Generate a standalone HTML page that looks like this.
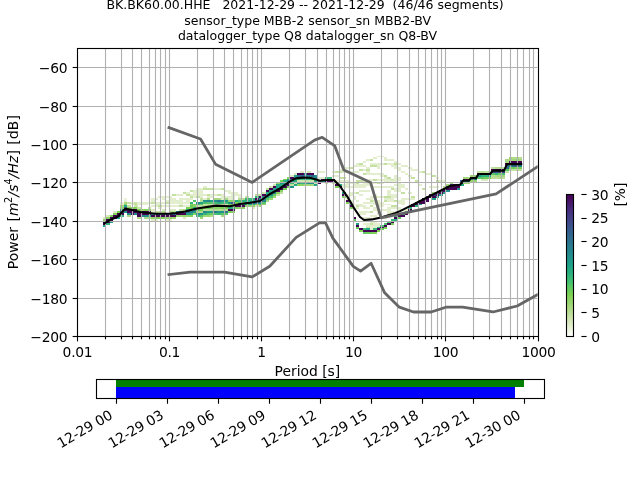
<!DOCTYPE html>
<html><head><meta charset="utf-8"><title>PPSD BK.BK60.00.HHE</title>
<style>
html,body{margin:0;padding:0;background:#fff;}
svg{display:block;font-family:"DejaVu Sans","Liberation Sans",sans-serif;font-size:13.89px;fill:#000;}
.t{font-size:12.5px;}
</style></head><body>
<svg width="640" height="480" viewBox="0 0 640 480">
<defs><linearGradient id="cbg" x1="0" y1="1" x2="0" y2="0"><stop offset="0.0000" stop-color="#ffffff"/><stop offset="0.0167" stop-color="#f9fbf4"/><stop offset="0.0333" stop-color="#f2f7e8"/><stop offset="0.0500" stop-color="#ecf3dd"/><stop offset="0.0667" stop-color="#e5efd2"/><stop offset="0.0833" stop-color="#deecc8"/><stop offset="0.1000" stop-color="#d7e8bd"/><stop offset="0.1167" stop-color="#d0e5b3"/><stop offset="0.1333" stop-color="#c9e2a9"/><stop offset="0.1500" stop-color="#c1e0a0"/><stop offset="0.1667" stop-color="#badd96"/><stop offset="0.1833" stop-color="#b2db8d"/><stop offset="0.2000" stop-color="#abd984"/><stop offset="0.2167" stop-color="#a3d77b"/><stop offset="0.2333" stop-color="#9bd672"/><stop offset="0.2500" stop-color="#93d469"/><stop offset="0.2667" stop-color="#8bd361"/><stop offset="0.2833" stop-color="#82d259"/><stop offset="0.3000" stop-color="#7ad151"/><stop offset="0.3167" stop-color="#6ece58"/><stop offset="0.3333" stop-color="#65cb5e"/><stop offset="0.3500" stop-color="#5ac864"/><stop offset="0.3667" stop-color="#50c46a"/><stop offset="0.3833" stop-color="#46c06f"/><stop offset="0.4000" stop-color="#3dbc74"/><stop offset="0.4167" stop-color="#35b779"/><stop offset="0.4333" stop-color="#2eb37c"/><stop offset="0.4500" stop-color="#28ae80"/><stop offset="0.4667" stop-color="#25ab82"/><stop offset="0.4833" stop-color="#21a685"/><stop offset="0.5000" stop-color="#1fa187"/><stop offset="0.5167" stop-color="#1e9d89"/><stop offset="0.5333" stop-color="#1f988b"/><stop offset="0.5500" stop-color="#20938c"/><stop offset="0.5667" stop-color="#218f8d"/><stop offset="0.5833" stop-color="#238a8d"/><stop offset="0.6000" stop-color="#24868e"/><stop offset="0.6167" stop-color="#26828e"/><stop offset="0.6333" stop-color="#287d8e"/><stop offset="0.6500" stop-color="#2a788e"/><stop offset="0.6667" stop-color="#2c738e"/><stop offset="0.6833" stop-color="#2e6f8e"/><stop offset="0.7000" stop-color="#306a8e"/><stop offset="0.7167" stop-color="#32658e"/><stop offset="0.7333" stop-color="#34618d"/><stop offset="0.7500" stop-color="#365c8d"/><stop offset="0.7667" stop-color="#39568c"/><stop offset="0.7833" stop-color="#3b518b"/><stop offset="0.8000" stop-color="#3e4c8a"/><stop offset="0.8167" stop-color="#404688"/><stop offset="0.8333" stop-color="#424086"/><stop offset="0.8500" stop-color="#443a83"/><stop offset="0.8667" stop-color="#453581"/><stop offset="0.8833" stop-color="#472f7d"/><stop offset="0.9000" stop-color="#482979"/><stop offset="0.9167" stop-color="#482374"/><stop offset="0.9333" stop-color="#481c6e"/><stop offset="0.9500" stop-color="#481668"/><stop offset="0.9667" stop-color="#470e61"/><stop offset="0.9833" stop-color="#46075a"/><stop offset="1.0000" stop-color="#440154"/></linearGradient>
<clipPath id="axc"><rect x="76.8" y="48.0" width="460.8" height="288.0"/></clipPath></defs>
<rect width="640" height="480" fill="#fff"/>
<g shape-rendering="crispEdges" clip-path="url(#axc)">
<rect x="102.81" y="216.96" width="3.52" height="1.97" fill="#dbeac4"/><rect x="102.81" y="218.88" width="3.52" height="1.97" fill="#8dd464"/><rect x="102.81" y="220.80" width="3.52" height="1.97" fill="#440154"/><rect x="102.81" y="222.72" width="3.52" height="1.97" fill="#440154"/><rect x="102.81" y="224.64" width="3.52" height="1.97" fill="#24aa83"/><rect x="106.28" y="215.04" width="3.52" height="1.97" fill="#d8e9bf"/><rect x="106.28" y="216.96" width="3.52" height="1.97" fill="#8cd363"/><rect x="106.28" y="218.88" width="3.52" height="1.97" fill="#440154"/><rect x="106.28" y="220.80" width="3.52" height="1.97" fill="#440154"/><rect x="106.28" y="222.72" width="3.52" height="1.97" fill="#31b57b"/><rect x="109.74" y="215.04" width="3.52" height="1.97" fill="#75d054"/><rect x="109.74" y="216.96" width="3.52" height="1.97" fill="#440154"/><rect x="109.74" y="218.88" width="3.52" height="1.97" fill="#440154"/><rect x="109.74" y="220.80" width="3.52" height="1.97" fill="#1e9d89"/><rect x="113.21" y="211.20" width="3.52" height="1.97" fill="#dceac4"/><rect x="113.21" y="213.12" width="3.52" height="1.97" fill="#83d259"/><rect x="113.21" y="215.04" width="3.52" height="1.97" fill="#440154"/><rect x="113.21" y="216.96" width="3.52" height="1.97" fill="#440154"/><rect x="116.68" y="211.20" width="3.52" height="1.97" fill="#77d153"/><rect x="116.68" y="213.12" width="3.52" height="1.97" fill="#440154"/><rect x="116.68" y="215.04" width="3.52" height="1.97" fill="#440154"/><rect x="116.68" y="216.96" width="3.52" height="1.97" fill="#20a386"/><rect x="120.15" y="201.60" width="3.52" height="1.97" fill="#edf3df"/><rect x="120.15" y="203.52" width="3.52" height="1.97" fill="#e5efd3"/><rect x="120.15" y="205.44" width="3.52" height="1.97" fill="#a2d77a"/><rect x="120.15" y="207.36" width="3.52" height="1.97" fill="#95d56b"/><rect x="120.15" y="209.28" width="3.52" height="1.97" fill="#1fa188"/><rect x="120.15" y="211.20" width="3.52" height="1.97" fill="#3b518b"/><rect x="120.15" y="213.12" width="3.52" height="1.97" fill="#440154"/><rect x="120.15" y="215.04" width="3.52" height="1.97" fill="#2cb17e"/><rect x="123.62" y="197.76" width="3.52" height="1.97" fill="#eaf2db"/><rect x="123.62" y="199.68" width="3.52" height="1.97" fill="#e5efd3"/><rect x="123.62" y="201.60" width="3.52" height="1.97" fill="#a6d87e"/><rect x="123.62" y="203.52" width="3.52" height="1.97" fill="#88d35e"/><rect x="123.62" y="205.44" width="3.52" height="1.97" fill="#23a983"/><rect x="123.62" y="207.36" width="3.52" height="1.97" fill="#375a8c"/><rect x="123.62" y="209.28" width="3.52" height="1.97" fill="#440154"/><rect x="123.62" y="211.20" width="3.52" height="1.97" fill="#20938c"/><rect x="127.08" y="201.60" width="3.52" height="1.97" fill="#c4e1a2"/><rect x="127.08" y="205.44" width="3.52" height="1.97" fill="#c4e1a2"/><rect x="127.08" y="207.36" width="3.52" height="1.97" fill="#84d25b"/><rect x="127.08" y="209.28" width="3.52" height="1.97" fill="#440154"/><rect x="127.08" y="211.20" width="3.52" height="1.97" fill="#440154"/><rect x="127.08" y="213.12" width="3.52" height="1.97" fill="#238a8d"/><rect x="127.08" y="215.04" width="3.52" height="1.97" fill="#aeda87"/><rect x="130.55" y="201.60" width="3.52" height="1.97" fill="#e3eecf"/><rect x="130.55" y="203.52" width="3.52" height="1.97" fill="#e3eecf"/><rect x="130.55" y="207.36" width="3.52" height="1.97" fill="#8cd363"/><rect x="130.55" y="209.28" width="3.52" height="1.97" fill="#440154"/><rect x="130.55" y="211.20" width="3.52" height="1.97" fill="#440154"/><rect x="130.55" y="213.12" width="3.52" height="1.97" fill="#440154"/><rect x="134.02" y="201.60" width="3.52" height="1.97" fill="#c4e1a2"/><rect x="134.02" y="203.52" width="3.52" height="1.97" fill="#c4e1a2"/><rect x="134.02" y="205.44" width="3.52" height="1.97" fill="#cde4af"/><rect x="134.02" y="207.36" width="3.52" height="1.97" fill="#7cd253"/><rect x="134.02" y="209.28" width="3.52" height="1.97" fill="#440154"/><rect x="134.02" y="211.20" width="3.52" height="1.97" fill="#440154"/><rect x="134.02" y="213.12" width="3.52" height="1.97" fill="#238a8d"/><rect x="137.49" y="201.60" width="3.52" height="1.97" fill="#e3eecf"/><rect x="137.49" y="203.52" width="3.52" height="1.97" fill="#e3eecf"/><rect x="137.49" y="207.36" width="3.52" height="1.97" fill="#cae3ab"/><rect x="137.49" y="209.28" width="3.52" height="1.97" fill="#7bd252"/><rect x="137.49" y="211.20" width="3.52" height="1.97" fill="#440154"/><rect x="137.49" y="213.12" width="3.52" height="1.97" fill="#440154"/><rect x="137.49" y="215.04" width="3.52" height="1.97" fill="#440154"/><rect x="137.49" y="216.96" width="3.52" height="1.97" fill="#b2db8c"/><rect x="140.96" y="201.60" width="3.52" height="1.97" fill="#e3eecf"/><rect x="140.96" y="203.52" width="3.52" height="1.97" fill="#e3eecf"/><rect x="140.96" y="209.28" width="3.52" height="1.97" fill="#94d56b"/><rect x="140.96" y="211.20" width="3.52" height="1.97" fill="#440154"/><rect x="140.96" y="213.12" width="3.52" height="1.97" fill="#440154"/><rect x="140.96" y="215.04" width="3.52" height="1.97" fill="#25848e"/><rect x="144.42" y="201.60" width="3.52" height="1.97" fill="#e3eecf"/><rect x="144.42" y="203.52" width="3.52" height="1.97" fill="#e3eecf"/><rect x="144.42" y="209.28" width="3.52" height="1.97" fill="#84d25a"/><rect x="144.42" y="211.20" width="3.52" height="1.97" fill="#440154"/><rect x="144.42" y="213.12" width="3.52" height="1.97" fill="#440154"/><rect x="144.42" y="215.04" width="3.52" height="1.97" fill="#228b8d"/><rect x="144.42" y="216.96" width="3.52" height="1.97" fill="#adda87"/><rect x="147.89" y="201.60" width="3.52" height="1.97" fill="#e3eecf"/><rect x="147.89" y="207.36" width="3.52" height="1.97" fill="#c6e2a6"/><rect x="147.89" y="209.28" width="3.52" height="1.97" fill="#9bd673"/><rect x="147.89" y="211.20" width="3.52" height="1.97" fill="#440154"/><rect x="147.89" y="213.12" width="3.52" height="1.97" fill="#440154"/><rect x="147.89" y="215.04" width="3.52" height="1.97" fill="#27ad81"/><rect x="147.89" y="216.96" width="3.52" height="1.97" fill="#b6dc91"/><rect x="151.36" y="197.76" width="3.52" height="1.97" fill="#e3eecf"/><rect x="151.36" y="199.68" width="3.52" height="1.97" fill="#e3eecf"/><rect x="151.36" y="201.60" width="3.52" height="1.97" fill="#c4e1a2"/><rect x="151.36" y="205.44" width="3.52" height="1.97" fill="#e3eecf"/><rect x="151.36" y="209.28" width="3.52" height="1.97" fill="#ddebc6"/><rect x="151.36" y="211.20" width="3.52" height="1.97" fill="#e3eecf"/><rect x="151.36" y="213.12" width="3.52" height="1.97" fill="#24878e"/><rect x="151.36" y="215.04" width="3.52" height="1.97" fill="#440154"/><rect x="151.36" y="216.96" width="3.52" height="1.97" fill="#90d466"/><rect x="151.36" y="218.88" width="3.52" height="1.97" fill="#daeac2"/><rect x="154.83" y="197.76" width="3.52" height="1.97" fill="#e3eecf"/><rect x="154.83" y="201.60" width="3.52" height="1.97" fill="#e3eecf"/><rect x="154.83" y="203.52" width="3.52" height="1.97" fill="#e3eecf"/><rect x="154.83" y="205.44" width="3.52" height="1.97" fill="#e3eecf"/><rect x="154.83" y="211.20" width="3.52" height="1.97" fill="#bade96"/><rect x="154.83" y="213.12" width="3.52" height="1.97" fill="#23898e"/><rect x="154.83" y="215.04" width="3.52" height="1.97" fill="#440154"/><rect x="154.83" y="216.96" width="3.52" height="1.97" fill="#7dd254"/><rect x="154.83" y="218.88" width="3.52" height="1.97" fill="#e3eecf"/><rect x="158.29" y="195.84" width="3.52" height="1.97" fill="#e3eecf"/><rect x="158.29" y="201.60" width="3.52" height="1.97" fill="#e3eecf"/><rect x="158.29" y="203.52" width="3.52" height="1.97" fill="#e3eecf"/><rect x="158.29" y="205.44" width="3.52" height="1.97" fill="#c4e1a2"/><rect x="158.29" y="207.36" width="3.52" height="1.97" fill="#e3eecf"/><rect x="158.29" y="211.20" width="3.52" height="1.97" fill="#c2e0a0"/><rect x="158.29" y="213.12" width="3.52" height="1.97" fill="#218e8d"/><rect x="158.29" y="215.04" width="3.52" height="1.97" fill="#440154"/><rect x="158.29" y="216.96" width="3.52" height="1.97" fill="#7cd253"/><rect x="161.76" y="195.84" width="3.52" height="1.97" fill="#e3eecf"/><rect x="161.76" y="197.76" width="3.52" height="1.97" fill="#e3eecf"/><rect x="161.76" y="201.60" width="3.52" height="1.97" fill="#e3eecf"/><rect x="161.76" y="205.44" width="3.52" height="1.97" fill="#e3eecf"/><rect x="161.76" y="209.28" width="3.52" height="1.97" fill="#d9e9c0"/><rect x="161.76" y="211.20" width="3.52" height="1.97" fill="#b4dc8e"/><rect x="161.76" y="213.12" width="3.52" height="1.97" fill="#32648e"/><rect x="161.76" y="215.04" width="3.52" height="1.97" fill="#440154"/><rect x="161.76" y="216.96" width="3.52" height="1.97" fill="#7ed255"/><rect x="165.23" y="195.84" width="3.52" height="1.97" fill="#e3eecf"/><rect x="165.23" y="199.68" width="3.52" height="1.97" fill="#e3eecf"/><rect x="165.23" y="201.60" width="3.52" height="1.97" fill="#c4e1a2"/><rect x="165.23" y="205.44" width="3.52" height="1.97" fill="#e3eecf"/><rect x="165.23" y="213.12" width="3.52" height="1.97" fill="#31668e"/><rect x="165.23" y="215.04" width="3.52" height="1.97" fill="#440154"/><rect x="165.23" y="216.96" width="3.52" height="1.97" fill="#90d467"/><rect x="165.23" y="218.88" width="3.52" height="1.97" fill="#e3eecf"/><rect x="168.70" y="195.84" width="3.52" height="1.97" fill="#e3eecf"/><rect x="168.70" y="197.76" width="3.52" height="1.97" fill="#e3eecf"/><rect x="168.70" y="199.68" width="3.52" height="1.97" fill="#e3eecf"/><rect x="168.70" y="201.60" width="3.52" height="1.97" fill="#e3eecf"/><rect x="168.70" y="205.44" width="3.52" height="1.97" fill="#e3eecf"/><rect x="168.70" y="209.28" width="3.52" height="1.97" fill="#daeac2"/><rect x="168.70" y="211.20" width="3.52" height="1.97" fill="#b0da89"/><rect x="168.70" y="213.12" width="3.52" height="1.97" fill="#375a8c"/><rect x="168.70" y="215.04" width="3.52" height="1.97" fill="#440154"/><rect x="168.70" y="216.96" width="3.52" height="1.97" fill="#90d466"/><rect x="168.70" y="218.88" width="3.52" height="1.97" fill="#e1edcc"/><rect x="172.17" y="193.92" width="3.52" height="1.97" fill="#c4e1a2"/><rect x="172.17" y="197.76" width="3.52" height="1.97" fill="#e3eecf"/><rect x="172.17" y="199.68" width="3.52" height="1.97" fill="#e3eecf"/><rect x="172.17" y="201.60" width="3.52" height="1.97" fill="#e3eecf"/><rect x="172.17" y="205.44" width="3.52" height="1.97" fill="#e3eecf"/><rect x="172.17" y="209.28" width="3.52" height="1.97" fill="#dbeac3"/><rect x="172.17" y="211.20" width="3.52" height="1.97" fill="#b1db8b"/><rect x="172.17" y="213.12" width="3.52" height="1.97" fill="#2b748e"/><rect x="172.17" y="215.04" width="3.52" height="1.97" fill="#440154"/><rect x="172.17" y="216.96" width="3.52" height="1.97" fill="#9bd672"/><rect x="175.63" y="193.92" width="3.52" height="1.97" fill="#e3eecf"/><rect x="175.63" y="199.68" width="3.52" height="1.97" fill="#e3eecf"/><rect x="175.63" y="201.60" width="3.52" height="1.97" fill="#e3eecf"/><rect x="175.63" y="205.44" width="3.52" height="1.97" fill="#e3eecf"/><rect x="175.63" y="211.20" width="3.52" height="1.97" fill="#2b748e"/><rect x="175.63" y="213.12" width="3.52" height="1.97" fill="#440154"/><rect x="175.63" y="215.04" width="3.52" height="1.97" fill="#91d468"/><rect x="179.10" y="193.92" width="3.52" height="1.97" fill="#e3eecf"/><rect x="179.10" y="197.76" width="3.52" height="1.97" fill="#e3eecf"/><rect x="179.10" y="199.68" width="3.52" height="1.97" fill="#e3eecf"/><rect x="179.10" y="201.60" width="3.52" height="1.97" fill="#e3eecf"/><rect x="179.10" y="203.52" width="3.52" height="1.97" fill="#e3eecf"/><rect x="179.10" y="205.44" width="3.52" height="1.97" fill="#c4e1a2"/><rect x="179.10" y="209.28" width="3.52" height="1.97" fill="#bcde99"/><rect x="179.10" y="211.20" width="3.52" height="1.97" fill="#31678e"/><rect x="179.10" y="213.12" width="3.52" height="1.97" fill="#440154"/><rect x="179.10" y="215.04" width="3.52" height="1.97" fill="#98d56f"/><rect x="182.57" y="192.00" width="3.52" height="1.97" fill="#c4e1a2"/><rect x="182.57" y="197.76" width="3.52" height="1.97" fill="#e3eecf"/><rect x="182.57" y="201.60" width="3.52" height="1.97" fill="#e3eecf"/><rect x="182.57" y="205.44" width="3.52" height="1.97" fill="#e3eecf"/><rect x="182.57" y="209.28" width="3.52" height="1.97" fill="#b3db8d"/><rect x="182.57" y="211.20" width="3.52" height="1.97" fill="#2f6b8e"/><rect x="182.57" y="213.12" width="3.52" height="1.97" fill="#440154"/><rect x="182.57" y="215.04" width="3.52" height="1.97" fill="#99d570"/><rect x="182.57" y="216.96" width="3.52" height="1.97" fill="#d9e9c0"/><rect x="186.04" y="192.00" width="3.52" height="1.97" fill="#e3eecf"/><rect x="186.04" y="193.92" width="3.52" height="1.97" fill="#c4e1a2"/><rect x="186.04" y="197.76" width="3.52" height="1.97" fill="#e3eecf"/><rect x="186.04" y="199.68" width="3.52" height="1.97" fill="#e3eecf"/><rect x="186.04" y="201.60" width="3.52" height="1.97" fill="#e3eecf"/><rect x="186.04" y="205.44" width="3.52" height="1.97" fill="#e3eecf"/><rect x="186.04" y="207.36" width="3.52" height="1.97" fill="#7cd253"/><rect x="186.04" y="209.28" width="3.52" height="1.97" fill="#26ad81"/><rect x="186.04" y="211.20" width="3.52" height="1.97" fill="#2e6e8e"/><rect x="186.04" y="213.12" width="3.52" height="1.97" fill="#1f9e89"/><rect x="186.04" y="215.04" width="3.52" height="1.97" fill="#8ed464"/><rect x="189.51" y="190.08" width="3.52" height="1.97" fill="#c4e1a2"/><rect x="189.51" y="193.92" width="3.52" height="1.97" fill="#e3eecf"/><rect x="189.51" y="195.84" width="3.52" height="1.97" fill="#c4e1a2"/><rect x="189.51" y="197.76" width="3.52" height="1.97" fill="#e3eecf"/><rect x="189.51" y="201.60" width="3.52" height="1.97" fill="#38b977"/><rect x="189.51" y="203.52" width="3.52" height="1.97" fill="#8cd363"/><rect x="189.51" y="205.44" width="3.52" height="1.97" fill="#63cb5f"/><rect x="189.51" y="207.36" width="3.52" height="1.97" fill="#7ad151"/><rect x="189.51" y="209.28" width="3.52" height="1.97" fill="#1fa088"/><rect x="189.51" y="211.20" width="3.52" height="1.97" fill="#277e8e"/><rect x="189.51" y="213.12" width="3.52" height="1.97" fill="#28ae80"/><rect x="189.51" y="215.04" width="3.52" height="1.97" fill="#7fd256"/><rect x="192.97" y="190.08" width="3.52" height="1.97" fill="#e3eecf"/><rect x="192.97" y="192.00" width="3.52" height="1.97" fill="#e3eecf"/><rect x="192.97" y="193.92" width="3.52" height="1.97" fill="#e3eecf"/><rect x="192.97" y="195.84" width="3.52" height="1.97" fill="#e3eecf"/><rect x="192.97" y="199.68" width="3.52" height="1.97" fill="#52c569"/><rect x="192.97" y="203.52" width="3.52" height="1.97" fill="#82d259"/><rect x="192.97" y="205.44" width="3.52" height="1.97" fill="#88d35f"/><rect x="192.97" y="207.36" width="3.52" height="1.97" fill="#2cb17e"/><rect x="192.97" y="209.28" width="3.52" height="1.97" fill="#2d718e"/><rect x="192.97" y="211.20" width="3.52" height="1.97" fill="#1f968b"/><rect x="192.97" y="213.12" width="3.52" height="1.97" fill="#88d35f"/><rect x="196.44" y="188.16" width="3.52" height="1.97" fill="#e3eecf"/><rect x="196.44" y="190.08" width="3.52" height="1.97" fill="#e3eecf"/><rect x="196.44" y="192.00" width="3.52" height="1.97" fill="#e3eecf"/><rect x="196.44" y="193.92" width="3.52" height="1.97" fill="#e3eecf"/><rect x="196.44" y="195.84" width="3.52" height="1.97" fill="#c4e1a2"/><rect x="196.44" y="201.60" width="3.52" height="1.97" fill="#20928c"/><rect x="196.44" y="203.52" width="3.52" height="1.97" fill="#3dbc74"/><rect x="196.44" y="205.44" width="3.52" height="1.97" fill="#c5e1a5"/><rect x="196.44" y="207.36" width="3.52" height="1.97" fill="#9ad671"/><rect x="196.44" y="209.28" width="3.52" height="1.97" fill="#60ca60"/><rect x="196.44" y="211.20" width="3.52" height="1.97" fill="#b1db8b"/><rect x="196.44" y="213.12" width="3.52" height="1.97" fill="#20928c"/><rect x="196.44" y="215.04" width="3.52" height="1.97" fill="#37b878"/><rect x="199.91" y="188.16" width="3.52" height="1.97" fill="#e3eecf"/><rect x="199.91" y="190.08" width="3.52" height="1.97" fill="#e3eecf"/><rect x="199.91" y="192.00" width="3.52" height="1.97" fill="#e3eecf"/><rect x="199.91" y="193.92" width="3.52" height="1.97" fill="#e3eecf"/><rect x="199.91" y="195.84" width="3.52" height="1.97" fill="#e3eecf"/><rect x="199.91" y="197.76" width="3.52" height="1.97" fill="#c4e1a2"/><rect x="199.91" y="199.68" width="3.52" height="1.97" fill="#b5dc90"/><rect x="199.91" y="201.60" width="3.52" height="1.97" fill="#20a386"/><rect x="199.91" y="203.52" width="3.52" height="1.97" fill="#5ac864"/><rect x="199.91" y="205.44" width="3.52" height="1.97" fill="#c4e1a3"/><rect x="199.91" y="207.36" width="3.52" height="1.97" fill="#a6d87f"/><rect x="199.91" y="209.28" width="3.52" height="1.97" fill="#70cf57"/><rect x="199.91" y="211.20" width="3.52" height="1.97" fill="#b1db8b"/><rect x="199.91" y="213.12" width="3.52" height="1.97" fill="#20938c"/><rect x="199.91" y="215.04" width="3.52" height="1.97" fill="#56c667"/><rect x="199.91" y="216.96" width="3.52" height="1.97" fill="#9dd674"/><rect x="203.38" y="186.24" width="3.52" height="1.97" fill="#e3eecf"/><rect x="203.38" y="188.16" width="3.52" height="1.97" fill="#c4e1a2"/><rect x="203.38" y="193.92" width="3.52" height="1.97" fill="#e3eecf"/><rect x="203.38" y="197.76" width="3.52" height="1.97" fill="#e3eecf"/><rect x="203.38" y="199.68" width="3.52" height="1.97" fill="#20928c"/><rect x="203.38" y="201.60" width="3.52" height="1.97" fill="#48c16e"/><rect x="203.38" y="203.52" width="3.52" height="1.97" fill="#cce4ae"/><rect x="203.38" y="205.44" width="3.52" height="1.97" fill="#abd984"/><rect x="203.38" y="207.36" width="3.52" height="1.97" fill="#7cd254"/><rect x="203.38" y="209.28" width="3.52" height="1.97" fill="#bedf9b"/><rect x="203.38" y="211.20" width="3.52" height="1.97" fill="#25858e"/><rect x="203.38" y="213.12" width="3.52" height="1.97" fill="#34b679"/><rect x="203.38" y="215.04" width="3.52" height="1.97" fill="#9dd674"/><rect x="206.84" y="188.16" width="3.52" height="1.97" fill="#c4e1a2"/><rect x="206.84" y="193.92" width="3.52" height="1.97" fill="#c4e1a2"/><rect x="206.84" y="195.84" width="3.52" height="1.97" fill="#e3eecf"/><rect x="206.84" y="197.76" width="3.52" height="1.97" fill="#b1db8b"/><rect x="206.84" y="199.68" width="3.52" height="1.97" fill="#26828e"/><rect x="206.84" y="201.60" width="3.52" height="1.97" fill="#56c667"/><rect x="206.84" y="203.52" width="3.52" height="1.97" fill="#c2e0a0"/><rect x="206.84" y="205.44" width="3.52" height="1.97" fill="#a3d77b"/><rect x="206.84" y="207.36" width="3.52" height="1.97" fill="#60ca60"/><rect x="206.84" y="209.28" width="3.52" height="1.97" fill="#b5dc90"/><rect x="206.84" y="211.20" width="3.52" height="1.97" fill="#1e9c89"/><rect x="206.84" y="213.12" width="3.52" height="1.97" fill="#54c568"/><rect x="206.84" y="215.04" width="3.52" height="1.97" fill="#9ed676"/><rect x="210.31" y="188.16" width="3.52" height="1.97" fill="#c4e1a2"/><rect x="210.31" y="193.92" width="3.52" height="1.97" fill="#e3eecf"/><rect x="210.31" y="195.84" width="3.52" height="1.97" fill="#e3eecf"/><rect x="210.31" y="199.68" width="3.52" height="1.97" fill="#1fa287"/><rect x="210.31" y="201.60" width="3.52" height="1.97" fill="#5ac864"/><rect x="210.31" y="203.52" width="3.52" height="1.97" fill="#cae3aa"/><rect x="210.31" y="205.44" width="3.52" height="1.97" fill="#99d570"/><rect x="210.31" y="207.36" width="3.52" height="1.97" fill="#84d25b"/><rect x="210.31" y="209.28" width="3.52" height="1.97" fill="#b9dd95"/><rect x="210.31" y="211.20" width="3.52" height="1.97" fill="#1f998a"/><rect x="210.31" y="213.12" width="3.52" height="1.97" fill="#6ece58"/><rect x="210.31" y="215.04" width="3.52" height="1.97" fill="#b0db8a"/><rect x="213.78" y="188.16" width="3.52" height="1.97" fill="#e3eecf"/><rect x="213.78" y="193.92" width="3.52" height="1.97" fill="#e3eecf"/><rect x="213.78" y="197.76" width="3.52" height="1.97" fill="#a3d87b"/><rect x="213.78" y="199.68" width="3.52" height="1.97" fill="#218f8d"/><rect x="213.78" y="201.60" width="3.52" height="1.97" fill="#46c06f"/><rect x="213.78" y="203.52" width="3.52" height="1.97" fill="#cde4af"/><rect x="213.78" y="205.44" width="3.52" height="1.97" fill="#93d46a"/><rect x="213.78" y="207.36" width="3.52" height="1.97" fill="#88d35e"/><rect x="213.78" y="209.28" width="3.52" height="1.97" fill="#b0db8a"/><rect x="213.78" y="211.20" width="3.52" height="1.97" fill="#2a768e"/><rect x="213.78" y="213.12" width="3.52" height="1.97" fill="#50c46a"/><rect x="217.25" y="188.16" width="3.52" height="1.97" fill="#e3eecf"/><rect x="217.25" y="193.92" width="3.52" height="1.97" fill="#c4e1a2"/><rect x="217.25" y="197.76" width="3.52" height="1.97" fill="#aad983"/><rect x="217.25" y="199.68" width="3.52" height="1.97" fill="#2a788e"/><rect x="217.25" y="201.60" width="3.52" height="1.97" fill="#2cb17e"/><rect x="217.25" y="203.52" width="3.52" height="1.97" fill="#c6e2a6"/><rect x="217.25" y="205.44" width="3.52" height="1.97" fill="#a0d777"/><rect x="217.25" y="207.36" width="3.52" height="1.97" fill="#8bd361"/><rect x="217.25" y="209.28" width="3.52" height="1.97" fill="#b5dc8f"/><rect x="217.25" y="211.20" width="3.52" height="1.97" fill="#1f968b"/><rect x="217.25" y="213.12" width="3.52" height="1.97" fill="#3bbb75"/><rect x="220.72" y="188.16" width="3.52" height="1.97" fill="#c4e1a2"/><rect x="220.72" y="193.92" width="3.52" height="1.97" fill="#e3eecf"/><rect x="220.72" y="195.84" width="3.52" height="1.97" fill="#e3eecf"/><rect x="220.72" y="197.76" width="3.52" height="1.97" fill="#e3eecf"/><rect x="220.72" y="199.68" width="3.52" height="1.97" fill="#1e9b8a"/><rect x="220.72" y="201.60" width="3.52" height="1.97" fill="#3fbc73"/><rect x="220.72" y="203.52" width="3.52" height="1.97" fill="#cae3ab"/><rect x="220.72" y="205.44" width="3.52" height="1.97" fill="#8bd362"/><rect x="220.72" y="207.36" width="3.52" height="1.97" fill="#77d153"/><rect x="220.72" y="209.28" width="3.52" height="1.97" fill="#afda89"/><rect x="220.72" y="211.20" width="3.52" height="1.97" fill="#228d8d"/><rect x="220.72" y="213.12" width="3.52" height="1.97" fill="#58c765"/><rect x="220.72" y="215.04" width="3.52" height="1.97" fill="#abd983"/><rect x="224.18" y="190.08" width="3.52" height="1.97" fill="#e3eecf"/><rect x="224.18" y="195.84" width="3.52" height="1.97" fill="#e3eecf"/><rect x="224.18" y="197.76" width="3.52" height="1.97" fill="#abd983"/><rect x="224.18" y="199.68" width="3.52" height="1.97" fill="#1f9a8a"/><rect x="224.18" y="201.60" width="3.52" height="1.97" fill="#44bf70"/><rect x="224.18" y="203.52" width="3.52" height="1.97" fill="#d1e6b5"/><rect x="224.18" y="205.44" width="3.52" height="1.97" fill="#a4d87c"/><rect x="224.18" y="207.36" width="3.52" height="1.97" fill="#7ad151"/><rect x="224.18" y="209.28" width="3.52" height="1.97" fill="#b6dc92"/><rect x="224.18" y="211.20" width="3.52" height="1.97" fill="#2c738e"/><rect x="224.18" y="213.12" width="3.52" height="1.97" fill="#5ac864"/><rect x="227.65" y="190.08" width="3.52" height="1.97" fill="#e3eecf"/><rect x="227.65" y="192.00" width="3.52" height="1.97" fill="#e3eecf"/><rect x="227.65" y="195.84" width="3.52" height="1.97" fill="#e3eecf"/><rect x="227.65" y="197.76" width="3.52" height="1.97" fill="#e3eecf"/><rect x="227.65" y="199.68" width="3.52" height="1.97" fill="#93d46a"/><rect x="227.65" y="201.60" width="3.52" height="1.97" fill="#228d8d"/><rect x="227.65" y="203.52" width="3.52" height="1.97" fill="#7bd252"/><rect x="227.65" y="205.44" width="3.52" height="1.97" fill="#56c667"/><rect x="227.65" y="207.36" width="3.52" height="1.97" fill="#35b779"/><rect x="227.65" y="209.28" width="3.52" height="1.97" fill="#440154"/><rect x="227.65" y="211.20" width="3.52" height="1.97" fill="#7dd254"/><rect x="231.12" y="192.00" width="3.52" height="1.97" fill="#e3eecf"/><rect x="231.12" y="193.92" width="3.52" height="1.97" fill="#e3eecf"/><rect x="231.12" y="195.84" width="3.52" height="1.97" fill="#e3eecf"/><rect x="231.12" y="197.76" width="3.52" height="1.97" fill="#e3eecf"/><rect x="231.12" y="199.68" width="3.52" height="1.97" fill="#90d466"/><rect x="231.12" y="201.60" width="3.52" height="1.97" fill="#365d8d"/><rect x="231.12" y="203.52" width="3.52" height="1.97" fill="#83d25a"/><rect x="231.12" y="205.44" width="3.52" height="1.97" fill="#81d258"/><rect x="231.12" y="207.36" width="3.52" height="1.97" fill="#29af7f"/><rect x="231.12" y="209.28" width="3.52" height="1.97" fill="#440154"/><rect x="231.12" y="211.20" width="3.52" height="1.97" fill="#88d35f"/><rect x="234.59" y="192.00" width="3.52" height="1.97" fill="#e3eecf"/><rect x="234.59" y="193.92" width="3.52" height="1.97" fill="#e3eecf"/><rect x="234.59" y="199.68" width="3.52" height="1.97" fill="#26ad81"/><rect x="234.59" y="201.60" width="3.52" height="1.97" fill="#82d259"/><rect x="234.59" y="203.52" width="3.52" height="1.97" fill="#29798e"/><rect x="234.59" y="205.44" width="3.52" height="1.97" fill="#440154"/><rect x="234.59" y="207.36" width="3.52" height="1.97" fill="#84d25b"/><rect x="238.06" y="193.92" width="3.52" height="1.97" fill="#e3eecf"/><rect x="238.06" y="195.84" width="3.52" height="1.97" fill="#e3eecf"/><rect x="238.06" y="197.76" width="3.52" height="1.97" fill="#b5dc8f"/><rect x="238.06" y="199.68" width="3.52" height="1.97" fill="#48c16e"/><rect x="238.06" y="201.60" width="3.52" height="1.97" fill="#56c667"/><rect x="238.06" y="203.52" width="3.52" height="1.97" fill="#297a8e"/><rect x="238.06" y="205.44" width="3.52" height="1.97" fill="#440154"/><rect x="238.06" y="207.36" width="3.52" height="1.97" fill="#8fd466"/><rect x="241.52" y="197.76" width="3.52" height="1.97" fill="#b6dc91"/><rect x="241.52" y="199.68" width="3.52" height="1.97" fill="#29af7f"/><rect x="241.52" y="201.60" width="3.52" height="1.97" fill="#7ed255"/><rect x="241.52" y="203.52" width="3.52" height="1.97" fill="#20928c"/><rect x="241.52" y="205.44" width="3.52" height="1.97" fill="#440154"/><rect x="241.52" y="207.36" width="3.52" height="1.97" fill="#88d35e"/><rect x="244.99" y="195.84" width="3.52" height="1.97" fill="#c4e1a3"/><rect x="244.99" y="197.76" width="3.52" height="1.97" fill="#34b679"/><rect x="244.99" y="199.68" width="3.52" height="1.97" fill="#2db27d"/><rect x="244.99" y="201.60" width="3.52" height="1.97" fill="#2b758e"/><rect x="244.99" y="203.52" width="3.52" height="1.97" fill="#23a983"/><rect x="244.99" y="205.44" width="3.52" height="1.97" fill="#96d56d"/><rect x="248.46" y="197.76" width="3.52" height="1.97" fill="#3fbc73"/><rect x="248.46" y="199.68" width="3.52" height="1.97" fill="#26ad81"/><rect x="248.46" y="201.60" width="3.52" height="1.97" fill="#25838e"/><rect x="248.46" y="203.52" width="3.52" height="1.97" fill="#21a585"/><rect x="248.46" y="205.44" width="3.52" height="1.97" fill="#99d56f"/><rect x="251.93" y="197.76" width="3.52" height="1.97" fill="#2db27d"/><rect x="251.93" y="199.68" width="3.52" height="1.97" fill="#1fa287"/><rect x="251.93" y="201.60" width="3.52" height="1.97" fill="#365d8d"/><rect x="251.93" y="203.52" width="3.52" height="1.97" fill="#26ad81"/><rect x="251.93" y="205.44" width="3.52" height="1.97" fill="#8bd361"/><rect x="251.93" y="207.36" width="3.52" height="1.97" fill="#daeac1"/><rect x="255.40" y="193.92" width="3.52" height="1.97" fill="#bddf9a"/><rect x="255.40" y="195.84" width="3.52" height="1.97" fill="#2cb17e"/><rect x="255.40" y="197.76" width="3.52" height="1.97" fill="#440154"/><rect x="255.40" y="199.68" width="3.52" height="1.97" fill="#34608d"/><rect x="255.40" y="201.60" width="3.52" height="1.97" fill="#25858e"/><rect x="255.40" y="203.52" width="3.52" height="1.97" fill="#7ad252"/><rect x="255.40" y="205.44" width="3.52" height="1.97" fill="#d9e9c0"/><rect x="258.86" y="193.92" width="3.52" height="1.97" fill="#c0df9e"/><rect x="258.86" y="195.84" width="3.52" height="1.97" fill="#440154"/><rect x="258.86" y="197.76" width="3.52" height="1.97" fill="#1e9b8a"/><rect x="258.86" y="199.68" width="3.52" height="1.97" fill="#1e9c89"/><rect x="258.86" y="201.60" width="3.52" height="1.97" fill="#23898e"/><rect x="258.86" y="203.52" width="3.52" height="1.97" fill="#4ac16d"/><rect x="258.86" y="205.44" width="3.52" height="1.97" fill="#a3d77a"/><rect x="262.33" y="192.00" width="3.52" height="1.97" fill="#cee5b1"/><rect x="262.33" y="193.92" width="3.52" height="1.97" fill="#440154"/><rect x="262.33" y="195.84" width="3.52" height="1.97" fill="#24878e"/><rect x="262.33" y="197.76" width="3.52" height="1.97" fill="#27808e"/><rect x="262.33" y="199.68" width="3.52" height="1.97" fill="#25848e"/><rect x="262.33" y="201.60" width="3.52" height="1.97" fill="#56c667"/><rect x="262.33" y="203.52" width="3.52" height="1.97" fill="#93d46a"/><rect x="265.80" y="188.16" width="3.52" height="1.97" fill="#c4e1a3"/><rect x="265.80" y="190.08" width="3.52" height="1.97" fill="#440154"/><rect x="265.80" y="192.00" width="3.52" height="1.97" fill="#25ac82"/><rect x="265.80" y="193.92" width="3.52" height="1.97" fill="#1f988b"/><rect x="265.80" y="195.84" width="3.52" height="1.97" fill="#1f9f88"/><rect x="265.80" y="197.76" width="3.52" height="1.97" fill="#56c667"/><rect x="265.80" y="199.68" width="3.52" height="1.97" fill="#a3d77b"/><rect x="269.27" y="186.24" width="3.52" height="1.97" fill="#cce4ae"/><rect x="269.27" y="188.16" width="3.52" height="1.97" fill="#440154"/><rect x="269.27" y="190.08" width="3.52" height="1.97" fill="#22a785"/><rect x="269.27" y="192.00" width="3.52" height="1.97" fill="#1f948c"/><rect x="269.27" y="193.92" width="3.52" height="1.97" fill="#1f988b"/><rect x="269.27" y="195.84" width="3.52" height="1.97" fill="#4cc26c"/><rect x="269.27" y="197.76" width="3.52" height="1.97" fill="#9dd674"/><rect x="272.73" y="184.32" width="3.52" height="1.97" fill="#cee5b1"/><rect x="272.73" y="186.24" width="3.52" height="1.97" fill="#440154"/><rect x="272.73" y="188.16" width="3.52" height="1.97" fill="#24aa83"/><rect x="272.73" y="190.08" width="3.52" height="1.97" fill="#20928c"/><rect x="272.73" y="192.00" width="3.52" height="1.97" fill="#24878e"/><rect x="272.73" y="193.92" width="3.52" height="1.97" fill="#69cd5b"/><rect x="272.73" y="195.84" width="3.52" height="1.97" fill="#9ad671"/><rect x="276.20" y="182.40" width="3.52" height="1.97" fill="#91d468"/><rect x="276.20" y="184.32" width="3.52" height="1.97" fill="#25ab82"/><rect x="276.20" y="186.24" width="3.52" height="1.97" fill="#23a983"/><rect x="276.20" y="188.16" width="3.52" height="1.97" fill="#2f6c8e"/><rect x="276.20" y="190.08" width="3.52" height="1.97" fill="#440154"/><rect x="276.20" y="192.00" width="3.52" height="1.97" fill="#84d25b"/><rect x="276.20" y="193.92" width="3.52" height="1.97" fill="#cbe3ac"/><rect x="279.67" y="180.48" width="3.52" height="1.97" fill="#77d153"/><rect x="279.67" y="182.40" width="3.52" height="1.97" fill="#20928c"/><rect x="279.67" y="184.32" width="3.52" height="1.97" fill="#26ad81"/><rect x="279.67" y="186.24" width="3.52" height="1.97" fill="#365d8d"/><rect x="279.67" y="188.16" width="3.52" height="1.97" fill="#440154"/><rect x="279.67" y="190.08" width="3.52" height="1.97" fill="#90d467"/><rect x="279.67" y="192.00" width="3.52" height="1.97" fill="#c1e09f"/><rect x="283.14" y="178.56" width="3.52" height="1.97" fill="#7cd253"/><rect x="283.14" y="180.48" width="3.52" height="1.97" fill="#25ac82"/><rect x="283.14" y="182.40" width="3.52" height="1.97" fill="#22a785"/><rect x="283.14" y="184.32" width="3.52" height="1.97" fill="#30698e"/><rect x="283.14" y="186.24" width="3.52" height="1.97" fill="#440154"/><rect x="283.14" y="188.16" width="3.52" height="1.97" fill="#70cf57"/><rect x="286.61" y="176.64" width="3.52" height="1.97" fill="#89d35f"/><rect x="286.61" y="178.56" width="3.52" height="1.97" fill="#1f958b"/><rect x="286.61" y="180.48" width="3.52" height="1.97" fill="#25858e"/><rect x="286.61" y="182.40" width="3.52" height="1.97" fill="#277f8e"/><rect x="286.61" y="184.32" width="3.52" height="1.97" fill="#440154"/><rect x="286.61" y="186.24" width="3.52" height="1.97" fill="#73d056"/><rect x="290.07" y="174.72" width="3.52" height="1.97" fill="#dcebc5"/><rect x="290.07" y="176.64" width="3.52" height="1.97" fill="#440154"/><rect x="290.07" y="178.56" width="3.52" height="1.97" fill="#297a8e"/><rect x="290.07" y="180.48" width="3.52" height="1.97" fill="#1e9d89"/><rect x="290.07" y="182.40" width="3.52" height="1.97" fill="#3aba76"/><rect x="290.07" y="184.32" width="3.52" height="1.97" fill="#c1e09f"/><rect x="290.07" y="186.24" width="3.52" height="1.97" fill="#20928c"/><rect x="293.54" y="172.80" width="3.52" height="1.97" fill="#daeac2"/><rect x="293.54" y="174.72" width="3.52" height="1.97" fill="#1fa188"/><rect x="293.54" y="176.64" width="3.52" height="1.97" fill="#2c738e"/><rect x="293.54" y="178.56" width="3.52" height="1.97" fill="#20a486"/><rect x="293.54" y="180.48" width="3.52" height="1.97" fill="#27ad81"/><rect x="293.54" y="182.40" width="3.52" height="1.97" fill="#cee4b0"/><rect x="293.54" y="184.32" width="3.52" height="1.97" fill="#22a884"/><rect x="297.01" y="172.80" width="3.52" height="1.97" fill="#440154"/><rect x="297.01" y="174.72" width="3.52" height="1.97" fill="#31668e"/><rect x="297.01" y="176.64" width="3.52" height="1.97" fill="#27ad81"/><rect x="297.01" y="178.56" width="3.52" height="1.97" fill="#38b977"/><rect x="297.01" y="180.48" width="3.52" height="1.97" fill="#cde4b0"/><rect x="297.01" y="182.40" width="3.52" height="1.97" fill="#1f968b"/><rect x="297.01" y="184.32" width="3.52" height="1.97" fill="#8bd362"/><rect x="300.48" y="170.88" width="3.52" height="1.97" fill="#dbeac3"/><rect x="300.48" y="172.80" width="3.52" height="1.97" fill="#440154"/><rect x="300.48" y="174.72" width="3.52" height="1.97" fill="#306a8e"/><rect x="300.48" y="176.64" width="3.52" height="1.97" fill="#29af7f"/><rect x="300.48" y="178.56" width="3.52" height="1.97" fill="#3fbc73"/><rect x="300.48" y="180.48" width="3.52" height="1.97" fill="#cfe5b2"/><rect x="300.48" y="182.40" width="3.52" height="1.97" fill="#2eb37c"/><rect x="300.48" y="184.32" width="3.52" height="1.97" fill="#8dd464"/><rect x="303.95" y="172.80" width="3.52" height="1.97" fill="#25858e"/><rect x="303.95" y="174.72" width="3.52" height="1.97" fill="#25848e"/><rect x="303.95" y="176.64" width="3.52" height="1.97" fill="#1f978b"/><rect x="303.95" y="178.56" width="3.52" height="1.97" fill="#27ad81"/><rect x="303.95" y="180.48" width="3.52" height="1.97" fill="#cbe3ac"/><rect x="303.95" y="182.40" width="3.52" height="1.97" fill="#28ae80"/><rect x="303.95" y="184.32" width="3.52" height="1.97" fill="#a2d77a"/><rect x="307.41" y="170.88" width="3.52" height="1.97" fill="#d1e6b5"/><rect x="307.41" y="172.80" width="3.52" height="1.97" fill="#440154"/><rect x="307.41" y="174.72" width="3.52" height="1.97" fill="#25838e"/><rect x="307.41" y="176.64" width="3.52" height="1.97" fill="#1f948c"/><rect x="307.41" y="178.56" width="3.52" height="1.97" fill="#32b67a"/><rect x="307.41" y="180.48" width="3.52" height="1.97" fill="#c9e3aa"/><rect x="307.41" y="182.40" width="3.52" height="1.97" fill="#21908d"/><rect x="307.41" y="184.32" width="3.52" height="1.97" fill="#9fd777"/><rect x="310.88" y="172.80" width="3.52" height="1.97" fill="#440154"/><rect x="310.88" y="174.72" width="3.52" height="1.97" fill="#33628d"/><rect x="310.88" y="176.64" width="3.52" height="1.97" fill="#2fb47c"/><rect x="310.88" y="178.56" width="3.52" height="1.97" fill="#4ac16d"/><rect x="310.88" y="180.48" width="3.52" height="1.97" fill="#cde4af"/><rect x="310.88" y="182.40" width="3.52" height="1.97" fill="#21918c"/><rect x="310.88" y="184.32" width="3.52" height="1.97" fill="#a2d77a"/><rect x="314.35" y="174.72" width="3.52" height="1.97" fill="#218f8d"/><rect x="314.35" y="176.64" width="3.52" height="1.97" fill="#27808e"/><rect x="314.35" y="178.56" width="3.52" height="1.97" fill="#1f978b"/><rect x="314.35" y="180.48" width="3.52" height="1.97" fill="#28ae80"/><rect x="314.35" y="182.40" width="3.52" height="1.97" fill="#d1e6b5"/><rect x="314.35" y="184.32" width="3.52" height="1.97" fill="#1fa287"/><rect x="317.82" y="170.88" width="3.52" height="1.97" fill="#e3eecf"/><rect x="317.82" y="176.64" width="3.52" height="1.97" fill="#e3eecf"/><rect x="317.82" y="180.48" width="3.52" height="1.97" fill="#3a548c"/><rect x="317.82" y="182.40" width="3.52" height="1.97" fill="#440154"/><rect x="321.28" y="170.88" width="3.52" height="1.97" fill="#e3eecf"/><rect x="321.28" y="176.64" width="3.52" height="1.97" fill="#e3eecf"/><rect x="321.28" y="178.56" width="3.52" height="1.97" fill="#482576"/><rect x="321.28" y="180.48" width="3.52" height="1.97" fill="#1fa088"/><rect x="324.75" y="176.64" width="3.52" height="1.97" fill="#2cb17e"/><rect x="324.75" y="178.56" width="3.52" height="1.97" fill="#482878"/><rect x="324.75" y="180.48" width="3.52" height="1.97" fill="#440154"/><rect x="324.75" y="182.40" width="3.52" height="1.97" fill="#c4e1a3"/><rect x="328.22" y="176.64" width="3.52" height="1.97" fill="#3aba76"/><rect x="328.22" y="178.56" width="3.52" height="1.97" fill="#443b84"/><rect x="328.22" y="180.48" width="3.52" height="1.97" fill="#440154"/><rect x="331.69" y="170.88" width="3.52" height="1.97" fill="#e3eecf"/><rect x="331.69" y="174.72" width="3.52" height="1.97" fill="#e3eecf"/><rect x="331.69" y="178.56" width="3.52" height="1.97" fill="#3a538b"/><rect x="331.69" y="180.48" width="3.52" height="1.97" fill="#440154"/><rect x="331.69" y="182.40" width="3.52" height="1.97" fill="#c9e3a9"/><rect x="335.16" y="170.88" width="3.52" height="1.97" fill="#c4e1a2"/><rect x="335.16" y="174.72" width="3.52" height="1.97" fill="#e3eecf"/><rect x="335.16" y="180.48" width="3.52" height="1.97" fill="#e3eecf"/><rect x="335.16" y="182.40" width="3.52" height="1.97" fill="#e3eecf"/><rect x="335.16" y="184.32" width="3.52" height="1.97" fill="#440154"/><rect x="335.16" y="186.24" width="3.52" height="1.97" fill="#7ed255"/><rect x="338.62" y="168.96" width="3.52" height="1.97" fill="#e3eecf"/><rect x="338.62" y="170.88" width="3.52" height="1.97" fill="#c4e1a2"/><rect x="338.62" y="176.64" width="3.52" height="1.97" fill="#c4e1a2"/><rect x="338.62" y="180.48" width="3.52" height="1.97" fill="#e3eecf"/><rect x="338.62" y="184.32" width="3.52" height="1.97" fill="#27ad81"/><rect x="338.62" y="186.24" width="3.52" height="1.97" fill="#440154"/><rect x="342.09" y="167.04" width="3.52" height="1.97" fill="#e3eecf"/><rect x="342.09" y="168.96" width="3.52" height="1.97" fill="#e3eecf"/><rect x="342.09" y="170.88" width="3.52" height="1.97" fill="#e3eecf"/><rect x="342.09" y="176.64" width="3.52" height="1.97" fill="#c4e1a2"/><rect x="342.09" y="180.48" width="3.52" height="1.97" fill="#e3eecf"/><rect x="342.09" y="184.32" width="3.52" height="1.97" fill="#e3eecf"/><rect x="342.09" y="186.24" width="3.52" height="1.97" fill="#e3eecf"/><rect x="342.09" y="192.00" width="3.52" height="1.97" fill="#22a785"/><rect x="342.09" y="193.92" width="3.52" height="1.97" fill="#440154"/><rect x="342.09" y="195.84" width="3.52" height="1.97" fill="#80d257"/><rect x="345.56" y="167.04" width="3.52" height="1.97" fill="#e3eecf"/><rect x="345.56" y="170.88" width="3.52" height="1.97" fill="#e3eecf"/><rect x="345.56" y="180.48" width="3.52" height="1.97" fill="#e3eecf"/><rect x="345.56" y="182.40" width="3.52" height="1.97" fill="#e3eecf"/><rect x="345.56" y="184.32" width="3.52" height="1.97" fill="#e3eecf"/><rect x="345.56" y="186.24" width="3.52" height="1.97" fill="#e3eecf"/><rect x="345.56" y="193.92" width="3.52" height="1.97" fill="#e3eecf"/><rect x="345.56" y="197.76" width="3.52" height="1.97" fill="#e3eecf"/><rect x="345.56" y="199.68" width="3.52" height="1.97" fill="#440154"/><rect x="345.56" y="201.60" width="3.52" height="1.97" fill="#85d35c"/><rect x="349.03" y="167.04" width="3.52" height="1.97" fill="#c4e1a2"/><rect x="349.03" y="170.88" width="3.52" height="1.97" fill="#e3eecf"/><rect x="349.03" y="182.40" width="3.52" height="1.97" fill="#e3eecf"/><rect x="349.03" y="186.24" width="3.52" height="1.97" fill="#e3eecf"/><rect x="349.03" y="192.00" width="3.52" height="1.97" fill="#e3eecf"/><rect x="349.03" y="193.92" width="3.52" height="1.97" fill="#e3eecf"/><rect x="349.03" y="199.68" width="3.52" height="1.97" fill="#e3eecf"/><rect x="349.03" y="201.60" width="3.52" height="1.97" fill="#e3eecf"/><rect x="349.03" y="203.52" width="3.52" height="1.97" fill="#21a685"/><rect x="349.03" y="205.44" width="3.52" height="1.97" fill="#440154"/><rect x="349.03" y="207.36" width="3.52" height="1.97" fill="#7fd256"/><rect x="352.50" y="165.12" width="3.52" height="1.97" fill="#e3eecf"/><rect x="352.50" y="170.88" width="3.52" height="1.97" fill="#e3eecf"/><rect x="352.50" y="182.40" width="3.52" height="1.97" fill="#e3eecf"/><rect x="352.50" y="184.32" width="3.52" height="1.97" fill="#e3eecf"/><rect x="352.50" y="186.24" width="3.52" height="1.97" fill="#e3eecf"/><rect x="352.50" y="192.00" width="3.52" height="1.97" fill="#e3eecf"/><rect x="352.50" y="195.84" width="3.52" height="1.97" fill="#e3eecf"/><rect x="352.50" y="197.76" width="3.52" height="1.97" fill="#e3eecf"/><rect x="352.50" y="203.52" width="3.52" height="1.97" fill="#e3eecf"/><rect x="352.50" y="207.36" width="3.52" height="1.97" fill="#e3eecf"/><rect x="352.50" y="216.96" width="3.52" height="1.97" fill="#440154"/><rect x="352.50" y="218.88" width="3.52" height="1.97" fill="#67cc5c"/><rect x="355.96" y="163.20" width="3.52" height="1.97" fill="#e3eecf"/><rect x="355.96" y="165.12" width="3.52" height="1.97" fill="#e3eecf"/><rect x="355.96" y="170.88" width="3.52" height="1.97" fill="#e3eecf"/><rect x="355.96" y="180.48" width="3.52" height="1.97" fill="#c4e1a2"/><rect x="355.96" y="182.40" width="3.52" height="1.97" fill="#c4e1a2"/><rect x="355.96" y="184.32" width="3.52" height="1.97" fill="#e3eecf"/><rect x="355.96" y="186.24" width="3.52" height="1.97" fill="#e3eecf"/><rect x="355.96" y="192.00" width="3.52" height="1.97" fill="#c4e1a2"/><rect x="355.96" y="199.68" width="3.52" height="1.97" fill="#e3eecf"/><rect x="355.96" y="203.52" width="3.52" height="1.97" fill="#e3eecf"/><rect x="355.96" y="205.44" width="3.52" height="1.97" fill="#c4e1a2"/><rect x="355.96" y="207.36" width="3.52" height="1.97" fill="#e3eecf"/><rect x="355.96" y="222.72" width="3.52" height="1.97" fill="#1fa287"/><rect x="355.96" y="224.64" width="3.52" height="1.97" fill="#440154"/><rect x="355.96" y="226.56" width="3.52" height="1.97" fill="#67cc5c"/><rect x="359.43" y="163.20" width="3.52" height="1.97" fill="#c4e1a2"/><rect x="359.43" y="165.12" width="3.52" height="1.97" fill="#e3eecf"/><rect x="359.43" y="168.96" width="3.52" height="1.97" fill="#c4e1a2"/><rect x="359.43" y="176.64" width="3.52" height="1.97" fill="#c4e1a2"/><rect x="359.43" y="180.48" width="3.52" height="1.97" fill="#c4e1a2"/><rect x="359.43" y="184.32" width="3.52" height="1.97" fill="#e3eecf"/><rect x="359.43" y="186.24" width="3.52" height="1.97" fill="#e3eecf"/><rect x="359.43" y="190.08" width="3.52" height="1.97" fill="#e3eecf"/><rect x="359.43" y="193.92" width="3.52" height="1.97" fill="#e3eecf"/><rect x="359.43" y="203.52" width="3.52" height="1.97" fill="#e3eecf"/><rect x="359.43" y="205.44" width="3.52" height="1.97" fill="#e3eecf"/><rect x="359.43" y="211.20" width="3.52" height="1.97" fill="#e3eecf"/><rect x="359.43" y="213.12" width="3.52" height="1.97" fill="#e3eecf"/><rect x="359.43" y="228.48" width="3.52" height="1.97" fill="#440154"/><rect x="359.43" y="230.40" width="3.52" height="1.97" fill="#83d25a"/><rect x="362.90" y="161.28" width="3.52" height="1.97" fill="#e3eecf"/><rect x="362.90" y="165.12" width="3.52" height="1.97" fill="#e3eecf"/><rect x="362.90" y="168.96" width="3.52" height="1.97" fill="#e3eecf"/><rect x="362.90" y="172.80" width="3.52" height="1.97" fill="#c4e1a2"/><rect x="362.90" y="178.56" width="3.52" height="1.97" fill="#e3eecf"/><rect x="362.90" y="180.48" width="3.52" height="1.97" fill="#e3eecf"/><rect x="362.90" y="182.40" width="3.52" height="1.97" fill="#e3eecf"/><rect x="362.90" y="184.32" width="3.52" height="1.97" fill="#e3eecf"/><rect x="362.90" y="186.24" width="3.52" height="1.97" fill="#e3eecf"/><rect x="362.90" y="190.08" width="3.52" height="1.97" fill="#e3eecf"/><rect x="362.90" y="201.60" width="3.52" height="1.97" fill="#e3eecf"/><rect x="362.90" y="205.44" width="3.52" height="1.97" fill="#e3eecf"/><rect x="362.90" y="207.36" width="3.52" height="1.97" fill="#e3eecf"/><rect x="362.90" y="211.20" width="3.52" height="1.97" fill="#e3eecf"/><rect x="362.90" y="213.12" width="3.52" height="1.97" fill="#e3eecf"/><rect x="362.90" y="216.96" width="3.52" height="1.97" fill="#e3eecf"/><rect x="362.90" y="222.72" width="3.52" height="1.97" fill="#e3eecf"/><rect x="362.90" y="228.48" width="3.52" height="1.97" fill="#40bd72"/><rect x="362.90" y="230.40" width="3.52" height="1.97" fill="#440154"/><rect x="362.90" y="232.32" width="3.52" height="1.97" fill="#60ca60"/><rect x="366.37" y="159.36" width="3.52" height="1.97" fill="#e3eecf"/><rect x="366.37" y="167.04" width="3.52" height="1.97" fill="#e3eecf"/><rect x="366.37" y="168.96" width="3.52" height="1.97" fill="#c4e1a2"/><rect x="366.37" y="170.88" width="3.52" height="1.97" fill="#e3eecf"/><rect x="366.37" y="172.80" width="3.52" height="1.97" fill="#e3eecf"/><rect x="366.37" y="178.56" width="3.52" height="1.97" fill="#e3eecf"/><rect x="366.37" y="182.40" width="3.52" height="1.97" fill="#e3eecf"/><rect x="366.37" y="184.32" width="3.52" height="1.97" fill="#e3eecf"/><rect x="366.37" y="190.08" width="3.52" height="1.97" fill="#e3eecf"/><rect x="366.37" y="197.76" width="3.52" height="1.97" fill="#e3eecf"/><rect x="366.37" y="201.60" width="3.52" height="1.97" fill="#e3eecf"/><rect x="366.37" y="207.36" width="3.52" height="1.97" fill="#e3eecf"/><rect x="366.37" y="211.20" width="3.52" height="1.97" fill="#e3eecf"/><rect x="366.37" y="216.96" width="3.52" height="1.97" fill="#e3eecf"/><rect x="366.37" y="222.72" width="3.52" height="1.97" fill="#e3eecf"/><rect x="366.37" y="224.64" width="3.52" height="1.97" fill="#e3eecf"/><rect x="366.37" y="226.56" width="3.52" height="1.97" fill="#c4e1a2"/><rect x="366.37" y="228.48" width="3.52" height="1.97" fill="#21a685"/><rect x="366.37" y="230.40" width="3.52" height="1.97" fill="#440154"/><rect x="366.37" y="232.32" width="3.52" height="1.97" fill="#69cd5b"/><rect x="369.83" y="159.36" width="3.52" height="1.97" fill="#c4e1a2"/><rect x="369.83" y="163.20" width="3.52" height="1.97" fill="#e3eecf"/><rect x="369.83" y="165.12" width="3.52" height="1.97" fill="#c4e1a2"/><rect x="369.83" y="172.80" width="3.52" height="1.97" fill="#e3eecf"/><rect x="369.83" y="178.56" width="3.52" height="1.97" fill="#e3eecf"/><rect x="369.83" y="182.40" width="3.52" height="1.97" fill="#e3eecf"/><rect x="369.83" y="186.24" width="3.52" height="1.97" fill="#e3eecf"/><rect x="369.83" y="195.84" width="3.52" height="1.97" fill="#e3eecf"/><rect x="369.83" y="197.76" width="3.52" height="1.97" fill="#e3eecf"/><rect x="369.83" y="199.68" width="3.52" height="1.97" fill="#c4e1a2"/><rect x="369.83" y="201.60" width="3.52" height="1.97" fill="#e3eecf"/><rect x="369.83" y="205.44" width="3.52" height="1.97" fill="#c4e1a2"/><rect x="369.83" y="211.20" width="3.52" height="1.97" fill="#c4e1a2"/><rect x="369.83" y="215.04" width="3.52" height="1.97" fill="#e3eecf"/><rect x="369.83" y="220.80" width="3.52" height="1.97" fill="#e3eecf"/><rect x="369.83" y="222.72" width="3.52" height="1.97" fill="#c4e1a2"/><rect x="369.83" y="224.64" width="3.52" height="1.97" fill="#e3eecf"/><rect x="369.83" y="226.56" width="3.52" height="1.97" fill="#e3eecf"/><rect x="369.83" y="228.48" width="3.52" height="1.97" fill="#e3eecf"/><rect x="369.83" y="230.40" width="3.52" height="1.97" fill="#440154"/><rect x="369.83" y="232.32" width="3.52" height="1.97" fill="#73d056"/><rect x="373.30" y="157.44" width="3.52" height="1.97" fill="#e3eecf"/><rect x="373.30" y="163.20" width="3.52" height="1.97" fill="#e3eecf"/><rect x="373.30" y="165.12" width="3.52" height="1.97" fill="#c4e1a2"/><rect x="373.30" y="172.80" width="3.52" height="1.97" fill="#e3eecf"/><rect x="373.30" y="178.56" width="3.52" height="1.97" fill="#c4e1a2"/><rect x="373.30" y="182.40" width="3.52" height="1.97" fill="#e3eecf"/><rect x="373.30" y="186.24" width="3.52" height="1.97" fill="#e3eecf"/><rect x="373.30" y="193.92" width="3.52" height="1.97" fill="#e3eecf"/><rect x="373.30" y="195.84" width="3.52" height="1.97" fill="#c4e1a2"/><rect x="373.30" y="199.68" width="3.52" height="1.97" fill="#e3eecf"/><rect x="373.30" y="201.60" width="3.52" height="1.97" fill="#e3eecf"/><rect x="373.30" y="203.52" width="3.52" height="1.97" fill="#e3eecf"/><rect x="373.30" y="207.36" width="3.52" height="1.97" fill="#e3eecf"/><rect x="373.30" y="209.28" width="3.52" height="1.97" fill="#e3eecf"/><rect x="373.30" y="215.04" width="3.52" height="1.97" fill="#e3eecf"/><rect x="373.30" y="216.96" width="3.52" height="1.97" fill="#e3eecf"/><rect x="373.30" y="220.80" width="3.52" height="1.97" fill="#e3eecf"/><rect x="373.30" y="222.72" width="3.52" height="1.97" fill="#e3eecf"/><rect x="373.30" y="224.64" width="3.52" height="1.97" fill="#e3eecf"/><rect x="373.30" y="226.56" width="3.52" height="1.97" fill="#e3eecf"/><rect x="373.30" y="228.48" width="3.52" height="1.97" fill="#35b779"/><rect x="373.30" y="230.40" width="3.52" height="1.97" fill="#440154"/><rect x="373.30" y="232.32" width="3.52" height="1.97" fill="#85d35c"/><rect x="376.77" y="155.52" width="3.52" height="1.97" fill="#e3eecf"/><rect x="376.77" y="163.20" width="3.52" height="1.97" fill="#e3eecf"/><rect x="376.77" y="165.12" width="3.52" height="1.97" fill="#e3eecf"/><rect x="376.77" y="167.04" width="3.52" height="1.97" fill="#e3eecf"/><rect x="376.77" y="172.80" width="3.52" height="1.97" fill="#e3eecf"/><rect x="376.77" y="178.56" width="3.52" height="1.97" fill="#e3eecf"/><rect x="376.77" y="182.40" width="3.52" height="1.97" fill="#c4e1a2"/><rect x="376.77" y="186.24" width="3.52" height="1.97" fill="#e3eecf"/><rect x="376.77" y="195.84" width="3.52" height="1.97" fill="#e3eecf"/><rect x="376.77" y="199.68" width="3.52" height="1.97" fill="#e3eecf"/><rect x="376.77" y="201.60" width="3.52" height="1.97" fill="#e3eecf"/><rect x="376.77" y="203.52" width="3.52" height="1.97" fill="#e3eecf"/><rect x="376.77" y="205.44" width="3.52" height="1.97" fill="#e3eecf"/><rect x="376.77" y="209.28" width="3.52" height="1.97" fill="#e3eecf"/><rect x="376.77" y="211.20" width="3.52" height="1.97" fill="#e3eecf"/><rect x="376.77" y="213.12" width="3.52" height="1.97" fill="#e3eecf"/><rect x="376.77" y="216.96" width="3.52" height="1.97" fill="#e3eecf"/><rect x="376.77" y="222.72" width="3.52" height="1.97" fill="#e3eecf"/><rect x="376.77" y="224.64" width="3.52" height="1.97" fill="#e3eecf"/><rect x="376.77" y="226.56" width="3.52" height="1.97" fill="#28ae80"/><rect x="376.77" y="228.48" width="3.52" height="1.97" fill="#440154"/><rect x="376.77" y="230.40" width="3.52" height="1.97" fill="#82d258"/><rect x="380.24" y="155.52" width="3.52" height="1.97" fill="#e3eecf"/><rect x="380.24" y="163.20" width="3.52" height="1.97" fill="#e3eecf"/><rect x="380.24" y="172.80" width="3.52" height="1.97" fill="#e3eecf"/><rect x="380.24" y="174.72" width="3.52" height="1.97" fill="#e3eecf"/><rect x="380.24" y="178.56" width="3.52" height="1.97" fill="#e3eecf"/><rect x="380.24" y="182.40" width="3.52" height="1.97" fill="#e3eecf"/><rect x="380.24" y="186.24" width="3.52" height="1.97" fill="#e3eecf"/><rect x="380.24" y="195.84" width="3.52" height="1.97" fill="#e3eecf"/><rect x="380.24" y="201.60" width="3.52" height="1.97" fill="#e3eecf"/><rect x="380.24" y="203.52" width="3.52" height="1.97" fill="#e3eecf"/><rect x="380.24" y="205.44" width="3.52" height="1.97" fill="#e3eecf"/><rect x="380.24" y="209.28" width="3.52" height="1.97" fill="#e3eecf"/><rect x="380.24" y="224.64" width="3.52" height="1.97" fill="#40bd72"/><rect x="380.24" y="226.56" width="3.52" height="1.97" fill="#440154"/><rect x="380.24" y="228.48" width="3.52" height="1.97" fill="#69cd5b"/><rect x="383.71" y="157.44" width="3.52" height="1.97" fill="#e3eecf"/><rect x="383.71" y="159.36" width="3.52" height="1.97" fill="#e3eecf"/><rect x="383.71" y="163.20" width="3.52" height="1.97" fill="#c4e1a2"/><rect x="383.71" y="174.72" width="3.52" height="1.97" fill="#c4e1a2"/><rect x="383.71" y="176.64" width="3.52" height="1.97" fill="#e3eecf"/><rect x="383.71" y="178.56" width="3.52" height="1.97" fill="#e3eecf"/><rect x="383.71" y="180.48" width="3.52" height="1.97" fill="#e3eecf"/><rect x="383.71" y="186.24" width="3.52" height="1.97" fill="#e3eecf"/><rect x="383.71" y="195.84" width="3.52" height="1.97" fill="#c4e1a2"/><rect x="383.71" y="197.76" width="3.52" height="1.97" fill="#e3eecf"/><rect x="383.71" y="199.68" width="3.52" height="1.97" fill="#c4e1a2"/><rect x="383.71" y="203.52" width="3.52" height="1.97" fill="#e3eecf"/><rect x="383.71" y="209.28" width="3.52" height="1.97" fill="#e3eecf"/><rect x="383.71" y="216.96" width="3.52" height="1.97" fill="#e3eecf"/><rect x="383.71" y="222.72" width="3.52" height="1.97" fill="#4ac16d"/><rect x="383.71" y="224.64" width="3.52" height="1.97" fill="#440154"/><rect x="383.71" y="226.56" width="3.52" height="1.97" fill="#77d153"/><rect x="387.17" y="159.36" width="3.52" height="1.97" fill="#e3eecf"/><rect x="387.17" y="163.20" width="3.52" height="1.97" fill="#e3eecf"/><rect x="387.17" y="176.64" width="3.52" height="1.97" fill="#c4e1a2"/><rect x="387.17" y="178.56" width="3.52" height="1.97" fill="#e3eecf"/><rect x="387.17" y="180.48" width="3.52" height="1.97" fill="#e3eecf"/><rect x="387.17" y="186.24" width="3.52" height="1.97" fill="#e3eecf"/><rect x="387.17" y="190.08" width="3.52" height="1.97" fill="#e3eecf"/><rect x="387.17" y="192.00" width="3.52" height="1.97" fill="#e3eecf"/><rect x="387.17" y="193.92" width="3.52" height="1.97" fill="#e3eecf"/><rect x="387.17" y="195.84" width="3.52" height="1.97" fill="#c4e1a2"/><rect x="387.17" y="197.76" width="3.52" height="1.97" fill="#e3eecf"/><rect x="387.17" y="199.68" width="3.52" height="1.97" fill="#e3eecf"/><rect x="387.17" y="203.52" width="3.52" height="1.97" fill="#e3eecf"/><rect x="387.17" y="207.36" width="3.52" height="1.97" fill="#e3eecf"/><rect x="387.17" y="209.28" width="3.52" height="1.97" fill="#e3eecf"/><rect x="387.17" y="211.20" width="3.52" height="1.97" fill="#e3eecf"/><rect x="387.17" y="213.12" width="3.52" height="1.97" fill="#e3eecf"/><rect x="387.17" y="220.80" width="3.52" height="1.97" fill="#48c16e"/><rect x="387.17" y="222.72" width="3.52" height="1.97" fill="#440154"/><rect x="390.64" y="159.36" width="3.52" height="1.97" fill="#e3eecf"/><rect x="390.64" y="163.20" width="3.52" height="1.97" fill="#e3eecf"/><rect x="390.64" y="165.12" width="3.52" height="1.97" fill="#e3eecf"/><rect x="390.64" y="178.56" width="3.52" height="1.97" fill="#c4e1a2"/><rect x="390.64" y="180.48" width="3.52" height="1.97" fill="#e3eecf"/><rect x="390.64" y="186.24" width="3.52" height="1.97" fill="#e3eecf"/><rect x="390.64" y="188.16" width="3.52" height="1.97" fill="#c4e1a2"/><rect x="390.64" y="193.92" width="3.52" height="1.97" fill="#e3eecf"/><rect x="390.64" y="195.84" width="3.52" height="1.97" fill="#e3eecf"/><rect x="390.64" y="197.76" width="3.52" height="1.97" fill="#e3eecf"/><rect x="390.64" y="199.68" width="3.52" height="1.97" fill="#e3eecf"/><rect x="390.64" y="205.44" width="3.52" height="1.97" fill="#c4e1a2"/><rect x="390.64" y="207.36" width="3.52" height="1.97" fill="#e3eecf"/><rect x="390.64" y="211.20" width="3.52" height="1.97" fill="#e3eecf"/><rect x="390.64" y="218.88" width="3.52" height="1.97" fill="#3aba76"/><rect x="390.64" y="220.80" width="3.52" height="1.97" fill="#440154"/><rect x="390.64" y="222.72" width="3.52" height="1.97" fill="#77d153"/><rect x="394.11" y="161.28" width="3.52" height="1.97" fill="#e3eecf"/><rect x="394.11" y="163.20" width="3.52" height="1.97" fill="#c4e1a2"/><rect x="394.11" y="165.12" width="3.52" height="1.97" fill="#e3eecf"/><rect x="394.11" y="167.04" width="3.52" height="1.97" fill="#e3eecf"/><rect x="394.11" y="174.72" width="3.52" height="1.97" fill="#e3eecf"/><rect x="394.11" y="176.64" width="3.52" height="1.97" fill="#e3eecf"/><rect x="394.11" y="178.56" width="3.52" height="1.97" fill="#e3eecf"/><rect x="394.11" y="180.48" width="3.52" height="1.97" fill="#e3eecf"/><rect x="394.11" y="184.32" width="3.52" height="1.97" fill="#e3eecf"/><rect x="394.11" y="188.16" width="3.52" height="1.97" fill="#e3eecf"/><rect x="394.11" y="190.08" width="3.52" height="1.97" fill="#e3eecf"/><rect x="394.11" y="193.92" width="3.52" height="1.97" fill="#e3eecf"/><rect x="394.11" y="195.84" width="3.52" height="1.97" fill="#e3eecf"/><rect x="394.11" y="199.68" width="3.52" height="1.97" fill="#c4e1a2"/><rect x="394.11" y="205.44" width="3.52" height="1.97" fill="#c4e1a2"/><rect x="394.11" y="207.36" width="3.52" height="1.97" fill="#e3eecf"/><rect x="394.11" y="211.20" width="3.52" height="1.97" fill="#e3eecf"/><rect x="394.11" y="215.04" width="3.52" height="1.97" fill="#32b67a"/><rect x="394.11" y="216.96" width="3.52" height="1.97" fill="#440154"/><rect x="394.11" y="218.88" width="3.52" height="1.97" fill="#27ad81"/><rect x="397.58" y="163.20" width="3.52" height="1.97" fill="#e3eecf"/><rect x="397.58" y="167.04" width="3.52" height="1.97" fill="#e3eecf"/><rect x="397.58" y="168.96" width="3.52" height="1.97" fill="#e3eecf"/><rect x="397.58" y="176.64" width="3.52" height="1.97" fill="#e3eecf"/><rect x="397.58" y="178.56" width="3.52" height="1.97" fill="#e3eecf"/><rect x="397.58" y="182.40" width="3.52" height="1.97" fill="#e3eecf"/><rect x="397.58" y="184.32" width="3.52" height="1.97" fill="#e3eecf"/><rect x="397.58" y="186.24" width="3.52" height="1.97" fill="#e3eecf"/><rect x="397.58" y="188.16" width="3.52" height="1.97" fill="#e3eecf"/><rect x="397.58" y="190.08" width="3.52" height="1.97" fill="#e3eecf"/><rect x="397.58" y="199.68" width="3.52" height="1.97" fill="#e3eecf"/><rect x="397.58" y="201.60" width="3.52" height="1.97" fill="#e3eecf"/><rect x="397.58" y="207.36" width="3.52" height="1.97" fill="#e3eecf"/><rect x="397.58" y="209.28" width="3.52" height="1.97" fill="#e3eecf"/><rect x="397.58" y="215.04" width="3.52" height="1.97" fill="#440154"/><rect x="397.58" y="216.96" width="3.52" height="1.97" fill="#63cb5f"/><rect x="401.05" y="165.12" width="3.52" height="1.97" fill="#e3eecf"/><rect x="401.05" y="170.88" width="3.52" height="1.97" fill="#e3eecf"/><rect x="401.05" y="184.32" width="3.52" height="1.97" fill="#e3eecf"/><rect x="401.05" y="186.24" width="3.52" height="1.97" fill="#e3eecf"/><rect x="401.05" y="192.00" width="3.52" height="1.97" fill="#c4e1a2"/><rect x="401.05" y="197.76" width="3.52" height="1.97" fill="#e3eecf"/><rect x="401.05" y="199.68" width="3.52" height="1.97" fill="#e3eecf"/><rect x="401.05" y="201.60" width="3.52" height="1.97" fill="#e3eecf"/><rect x="401.05" y="203.52" width="3.52" height="1.97" fill="#e3eecf"/><rect x="401.05" y="209.28" width="3.52" height="1.97" fill="#e3eecf"/><rect x="401.05" y="213.12" width="3.52" height="1.97" fill="#22a884"/><rect x="401.05" y="215.04" width="3.52" height="1.97" fill="#440154"/><rect x="404.51" y="165.12" width="3.52" height="1.97" fill="#e3eecf"/><rect x="404.51" y="172.80" width="3.52" height="1.97" fill="#e3eecf"/><rect x="404.51" y="188.16" width="3.52" height="1.97" fill="#e3eecf"/><rect x="404.51" y="197.76" width="3.52" height="1.97" fill="#e3eecf"/><rect x="404.51" y="209.28" width="3.52" height="1.97" fill="#e3eecf"/><rect x="404.51" y="211.20" width="3.52" height="1.97" fill="#4ec36b"/><rect x="404.51" y="213.12" width="3.52" height="1.97" fill="#440154"/><rect x="407.98" y="167.04" width="3.52" height="1.97" fill="#e3eecf"/><rect x="407.98" y="174.72" width="3.52" height="1.97" fill="#e3eecf"/><rect x="407.98" y="192.00" width="3.52" height="1.97" fill="#e3eecf"/><rect x="407.98" y="197.76" width="3.52" height="1.97" fill="#e3eecf"/><rect x="407.98" y="207.36" width="3.52" height="1.97" fill="#29af7f"/><rect x="407.98" y="209.28" width="3.52" height="1.97" fill="#440154"/><rect x="407.98" y="211.20" width="3.52" height="1.97" fill="#8ad360"/><rect x="411.45" y="168.96" width="3.52" height="1.97" fill="#e3eecf"/><rect x="411.45" y="176.64" width="3.52" height="1.97" fill="#c4e1a2"/><rect x="411.45" y="195.84" width="3.52" height="1.97" fill="#c4e1a2"/><rect x="411.45" y="197.76" width="3.52" height="1.97" fill="#e3eecf"/><rect x="411.45" y="203.52" width="3.52" height="1.97" fill="#481a6c"/><rect x="411.45" y="205.44" width="3.52" height="1.97" fill="#440154"/><rect x="414.92" y="168.96" width="3.52" height="1.97" fill="#e3eecf"/><rect x="414.92" y="180.48" width="3.52" height="1.97" fill="#c4e1a2"/><rect x="414.92" y="201.60" width="3.52" height="1.97" fill="#355f8d"/><rect x="414.92" y="203.52" width="3.52" height="1.97" fill="#440154"/><rect x="414.92" y="205.44" width="3.52" height="1.97" fill="#2eb37c"/><rect x="418.38" y="170.88" width="3.52" height="1.97" fill="#e3eecf"/><rect x="418.38" y="184.32" width="3.52" height="1.97" fill="#e3eecf"/><rect x="418.38" y="199.68" width="3.52" height="1.97" fill="#481c6e"/><rect x="418.38" y="201.60" width="3.52" height="1.97" fill="#440154"/><rect x="418.38" y="203.52" width="3.52" height="1.97" fill="#1f958b"/><rect x="421.85" y="170.88" width="3.52" height="1.97" fill="#c4e1a2"/><rect x="421.85" y="188.16" width="3.52" height="1.97" fill="#c4e1a2"/><rect x="421.85" y="197.76" width="3.52" height="1.97" fill="#482173"/><rect x="421.85" y="199.68" width="3.52" height="1.97" fill="#440154"/><rect x="421.85" y="201.60" width="3.52" height="1.97" fill="#440154"/><rect x="425.32" y="172.80" width="3.52" height="1.97" fill="#e3eecf"/><rect x="425.32" y="195.84" width="3.52" height="1.97" fill="#423f85"/><rect x="425.32" y="197.76" width="3.52" height="1.97" fill="#440154"/><rect x="425.32" y="199.68" width="3.52" height="1.97" fill="#440154"/><rect x="428.79" y="172.80" width="3.52" height="1.97" fill="#e3eecf"/><rect x="428.79" y="186.24" width="3.52" height="1.97" fill="#e3eecf"/><rect x="428.79" y="193.92" width="3.52" height="1.97" fill="#481c6e"/><rect x="428.79" y="195.84" width="3.52" height="1.97" fill="#440154"/><rect x="432.26" y="174.72" width="3.52" height="1.97" fill="#c4e1a2"/><rect x="432.26" y="186.24" width="3.52" height="1.97" fill="#e3eecf"/><rect x="432.26" y="192.00" width="3.52" height="1.97" fill="#a1d779"/><rect x="432.26" y="193.92" width="3.52" height="1.97" fill="#453882"/><rect x="432.26" y="195.84" width="3.52" height="1.97" fill="#440154"/><rect x="432.26" y="197.76" width="3.52" height="1.97" fill="#20a486"/><rect x="435.72" y="176.64" width="3.52" height="1.97" fill="#e3eecf"/><rect x="435.72" y="180.48" width="3.52" height="1.97" fill="#c4e1a2"/><rect x="435.72" y="186.24" width="3.52" height="1.97" fill="#e3eecf"/><rect x="435.72" y="192.00" width="3.52" height="1.97" fill="#46337f"/><rect x="435.72" y="193.92" width="3.52" height="1.97" fill="#440154"/><rect x="435.72" y="195.84" width="3.52" height="1.97" fill="#1e9d89"/><rect x="439.19" y="180.48" width="3.52" height="1.97" fill="#e3eecf"/><rect x="439.19" y="190.08" width="3.52" height="1.97" fill="#482979"/><rect x="439.19" y="192.00" width="3.52" height="1.97" fill="#440154"/><rect x="439.19" y="193.92" width="3.52" height="1.97" fill="#1fa287"/><rect x="442.66" y="180.48" width="3.52" height="1.97" fill="#e3eecf"/><rect x="442.66" y="186.24" width="3.52" height="1.97" fill="#b5dc90"/><rect x="442.66" y="188.16" width="3.52" height="1.97" fill="#34618d"/><rect x="442.66" y="190.08" width="3.52" height="1.97" fill="#440154"/><rect x="442.66" y="192.00" width="3.52" height="1.97" fill="#1e9c89"/><rect x="446.13" y="184.32" width="3.52" height="1.97" fill="#a4d87c"/><rect x="446.13" y="186.24" width="3.52" height="1.97" fill="#423f85"/><rect x="446.13" y="188.16" width="3.52" height="1.97" fill="#440154"/><rect x="446.13" y="190.08" width="3.52" height="1.97" fill="#218f8d"/><rect x="449.60" y="182.40" width="3.52" height="1.97" fill="#a1d778"/><rect x="449.60" y="184.32" width="3.52" height="1.97" fill="#472c7a"/><rect x="449.60" y="186.24" width="3.52" height="1.97" fill="#440154"/><rect x="449.60" y="188.16" width="3.52" height="1.97" fill="#440154"/><rect x="453.06" y="184.32" width="3.52" height="1.97" fill="#481769"/><rect x="453.06" y="186.24" width="3.52" height="1.97" fill="#440154"/><rect x="453.06" y="188.16" width="3.52" height="1.97" fill="#440154"/><rect x="456.53" y="184.32" width="3.52" height="1.97" fill="#33638d"/><rect x="456.53" y="186.24" width="3.52" height="1.97" fill="#440154"/><rect x="456.53" y="188.16" width="3.52" height="1.97" fill="#21918c"/><rect x="460.00" y="180.48" width="3.52" height="1.97" fill="#365d8d"/><rect x="460.00" y="182.40" width="3.52" height="1.97" fill="#440154"/><rect x="460.00" y="184.32" width="3.52" height="1.97" fill="#25ab82"/><rect x="463.47" y="176.64" width="3.52" height="1.97" fill="#a1d778"/><rect x="463.47" y="178.56" width="3.52" height="1.97" fill="#440154"/><rect x="463.47" y="180.48" width="3.52" height="1.97" fill="#29af7f"/><rect x="463.47" y="182.40" width="3.52" height="1.97" fill="#95d56b"/><rect x="466.93" y="176.64" width="3.52" height="1.97" fill="#a6d87e"/><rect x="466.93" y="178.56" width="3.52" height="1.97" fill="#440154"/><rect x="466.93" y="180.48" width="3.52" height="1.97" fill="#1fa088"/><rect x="466.93" y="182.40" width="3.52" height="1.97" fill="#a0d777"/><rect x="470.40" y="174.72" width="3.52" height="1.97" fill="#99d570"/><rect x="470.40" y="176.64" width="3.52" height="1.97" fill="#440154"/><rect x="470.40" y="178.56" width="3.52" height="1.97" fill="#2cb17e"/><rect x="470.40" y="180.48" width="3.52" height="1.97" fill="#96d56d"/><rect x="473.87" y="174.72" width="3.52" height="1.97" fill="#91d467"/><rect x="473.87" y="176.64" width="3.52" height="1.97" fill="#440154"/><rect x="473.87" y="178.56" width="3.52" height="1.97" fill="#1f9e89"/><rect x="473.87" y="180.48" width="3.52" height="1.97" fill="#92d468"/><rect x="477.34" y="170.88" width="3.52" height="1.97" fill="#c1e09f"/><rect x="477.34" y="172.80" width="3.52" height="1.97" fill="#440154"/><rect x="477.34" y="174.72" width="3.52" height="1.97" fill="#1f948c"/><rect x="477.34" y="176.64" width="3.52" height="1.97" fill="#5ac864"/><rect x="480.81" y="170.88" width="3.52" height="1.97" fill="#b6dc91"/><rect x="480.81" y="172.80" width="3.52" height="1.97" fill="#440154"/><rect x="480.81" y="174.72" width="3.52" height="1.97" fill="#2fb47c"/><rect x="480.81" y="176.64" width="3.52" height="1.97" fill="#5cc863"/><rect x="480.81" y="178.56" width="3.52" height="1.97" fill="#d7e8bd"/><rect x="484.27" y="170.88" width="3.52" height="1.97" fill="#c2e0a1"/><rect x="484.27" y="172.80" width="3.52" height="1.97" fill="#440154"/><rect x="484.27" y="174.72" width="3.52" height="1.97" fill="#31b57b"/><rect x="484.27" y="176.64" width="3.52" height="1.97" fill="#6ece58"/><rect x="484.27" y="178.56" width="3.52" height="1.97" fill="#d9e9c0"/><rect x="487.74" y="170.88" width="3.52" height="1.97" fill="#b8dd94"/><rect x="487.74" y="172.80" width="3.52" height="1.97" fill="#440154"/><rect x="487.74" y="174.72" width="3.52" height="1.97" fill="#1e9c89"/><rect x="487.74" y="176.64" width="3.52" height="1.97" fill="#7bd253"/><rect x="491.21" y="167.04" width="3.52" height="1.97" fill="#c2e0a0"/><rect x="491.21" y="168.96" width="3.52" height="1.97" fill="#440154"/><rect x="491.21" y="170.88" width="3.52" height="1.97" fill="#3f4788"/><rect x="491.21" y="172.80" width="3.52" height="1.97" fill="#56c667"/><rect x="491.21" y="174.72" width="3.52" height="1.97" fill="#b8dd94"/><rect x="491.21" y="176.64" width="3.52" height="1.97" fill="#b9dd94"/><rect x="494.68" y="167.04" width="3.52" height="1.97" fill="#b7dc92"/><rect x="494.68" y="168.96" width="3.52" height="1.97" fill="#440154"/><rect x="494.68" y="170.88" width="3.52" height="1.97" fill="#3c508b"/><rect x="494.68" y="172.80" width="3.52" height="1.97" fill="#38b977"/><rect x="494.68" y="174.72" width="3.52" height="1.97" fill="#aad982"/><rect x="494.68" y="176.64" width="3.52" height="1.97" fill="#c0df9d"/><rect x="498.15" y="167.04" width="3.52" height="1.97" fill="#b4dc8e"/><rect x="498.15" y="168.96" width="3.52" height="1.97" fill="#440154"/><rect x="498.15" y="170.88" width="3.52" height="1.97" fill="#424186"/><rect x="498.15" y="172.80" width="3.52" height="1.97" fill="#63cb5f"/><rect x="498.15" y="174.72" width="3.52" height="1.97" fill="#aad983"/><rect x="498.15" y="176.64" width="3.52" height="1.97" fill="#b3db8d"/><rect x="501.61" y="167.04" width="3.52" height="1.97" fill="#bedf9b"/><rect x="501.61" y="168.96" width="3.52" height="1.97" fill="#440154"/><rect x="501.61" y="170.88" width="3.52" height="1.97" fill="#404588"/><rect x="501.61" y="172.80" width="3.52" height="1.97" fill="#42be71"/><rect x="501.61" y="174.72" width="3.52" height="1.97" fill="#a1d778"/><rect x="501.61" y="176.64" width="3.52" height="1.97" fill="#bbde97"/><rect x="505.08" y="159.36" width="3.52" height="1.97" fill="#acda85"/><rect x="505.08" y="161.28" width="3.52" height="1.97" fill="#a8d980"/><rect x="505.08" y="163.20" width="3.52" height="1.97" fill="#440154"/><rect x="505.08" y="165.12" width="3.52" height="1.97" fill="#2f6b8e"/><rect x="505.08" y="167.04" width="3.52" height="1.97" fill="#30698e"/><rect x="505.08" y="168.96" width="3.52" height="1.97" fill="#56c667"/><rect x="505.08" y="170.88" width="3.52" height="1.97" fill="#c8e2a8"/><rect x="508.55" y="157.44" width="3.52" height="1.97" fill="#a3d77a"/><rect x="508.55" y="159.36" width="3.52" height="1.97" fill="#a3d77a"/><rect x="508.55" y="161.28" width="3.52" height="1.97" fill="#440154"/><rect x="508.55" y="163.20" width="3.52" height="1.97" fill="#2c728e"/><rect x="508.55" y="165.12" width="3.52" height="1.97" fill="#218e8d"/><rect x="508.55" y="167.04" width="3.52" height="1.97" fill="#75d054"/><rect x="508.55" y="168.96" width="3.52" height="1.97" fill="#c1e09f"/><rect x="512.02" y="157.44" width="3.52" height="1.97" fill="#afda89"/><rect x="512.02" y="159.36" width="3.52" height="1.97" fill="#a1d778"/><rect x="512.02" y="161.28" width="3.52" height="1.97" fill="#440154"/><rect x="512.02" y="163.20" width="3.52" height="1.97" fill="#38588c"/><rect x="512.02" y="165.12" width="3.52" height="1.97" fill="#306a8e"/><rect x="512.02" y="167.04" width="3.52" height="1.97" fill="#65cb5e"/><rect x="512.02" y="168.96" width="3.52" height="1.97" fill="#c5e1a5"/><rect x="515.48" y="157.44" width="3.52" height="1.97" fill="#acda86"/><rect x="515.48" y="159.36" width="3.52" height="1.97" fill="#98d56f"/><rect x="515.48" y="161.28" width="3.52" height="1.97" fill="#440154"/><rect x="515.48" y="163.20" width="3.52" height="1.97" fill="#38598c"/><rect x="515.48" y="165.12" width="3.52" height="1.97" fill="#365c8d"/><rect x="515.48" y="167.04" width="3.52" height="1.97" fill="#81d258"/><rect x="515.48" y="168.96" width="3.52" height="1.97" fill="#c1e09f"/><rect x="518.95" y="157.44" width="3.52" height="1.97" fill="#b5dc8f"/><rect x="518.95" y="159.36" width="3.52" height="1.97" fill="#aad983"/><rect x="518.95" y="161.28" width="3.52" height="1.97" fill="#440154"/><rect x="518.95" y="163.20" width="3.52" height="1.97" fill="#3a538b"/><rect x="518.95" y="165.12" width="3.52" height="1.97" fill="#228b8d"/><rect x="518.95" y="167.04" width="3.52" height="1.97" fill="#6ece58"/><rect x="518.95" y="168.96" width="3.52" height="1.97" fill="#c3e0a2"/>
</g>
<g stroke="#b0b0b0" stroke-width="1.11" fill="none" clip-path="url(#axc)">
<line x1="105.50" y1="48.00" x2="105.50" y2="336.00"/><line x1="121.50" y1="48.00" x2="121.50" y2="336.00"/><line x1="132.50" y1="48.00" x2="132.50" y2="336.00"/><line x1="141.50" y1="48.00" x2="141.50" y2="336.00"/><line x1="149.50" y1="48.00" x2="149.50" y2="336.00"/><line x1="155.50" y1="48.00" x2="155.50" y2="336.00"/><line x1="160.50" y1="48.00" x2="160.50" y2="336.00"/><line x1="165.50" y1="48.00" x2="165.50" y2="336.00"/><line x1="169.50" y1="48.00" x2="169.50" y2="336.00"/><line x1="197.50" y1="48.00" x2="197.50" y2="336.00"/><line x1="213.50" y1="48.00" x2="213.50" y2="336.00"/><line x1="224.50" y1="48.00" x2="224.50" y2="336.00"/><line x1="233.50" y1="48.00" x2="233.50" y2="336.00"/><line x1="241.50" y1="48.00" x2="241.50" y2="336.00"/><line x1="247.50" y1="48.00" x2="247.50" y2="336.00"/><line x1="252.50" y1="48.00" x2="252.50" y2="336.00"/><line x1="257.50" y1="48.00" x2="257.50" y2="336.00"/><line x1="261.50" y1="48.00" x2="261.50" y2="336.00"/><line x1="289.50" y1="48.00" x2="289.50" y2="336.00"/><line x1="305.50" y1="48.00" x2="305.50" y2="336.00"/><line x1="317.50" y1="48.00" x2="317.50" y2="336.00"/><line x1="326.50" y1="48.00" x2="326.50" y2="336.00"/><line x1="333.50" y1="48.00" x2="333.50" y2="336.00"/><line x1="339.50" y1="48.00" x2="339.50" y2="336.00"/><line x1="344.50" y1="48.00" x2="344.50" y2="336.00"/><line x1="349.50" y1="48.00" x2="349.50" y2="336.00"/><line x1="353.50" y1="48.00" x2="353.50" y2="336.00"/><line x1="381.50" y1="48.00" x2="381.50" y2="336.00"/><line x1="397.50" y1="48.00" x2="397.50" y2="336.00"/><line x1="409.50" y1="48.00" x2="409.50" y2="336.00"/><line x1="418.50" y1="48.00" x2="418.50" y2="336.00"/><line x1="425.50" y1="48.00" x2="425.50" y2="336.00"/><line x1="431.50" y1="48.00" x2="431.50" y2="336.00"/><line x1="437.50" y1="48.00" x2="437.50" y2="336.00"/><line x1="441.50" y1="48.00" x2="441.50" y2="336.00"/><line x1="445.50" y1="48.00" x2="445.50" y2="336.00"/><line x1="473.50" y1="48.00" x2="473.50" y2="336.00"/><line x1="489.50" y1="48.00" x2="489.50" y2="336.00"/><line x1="501.50" y1="48.00" x2="501.50" y2="336.00"/><line x1="510.50" y1="48.00" x2="510.50" y2="336.00"/><line x1="517.50" y1="48.00" x2="517.50" y2="336.00"/><line x1="523.50" y1="48.00" x2="523.50" y2="336.00"/><line x1="529.50" y1="48.00" x2="529.50" y2="336.00"/><line x1="533.50" y1="48.00" x2="533.50" y2="336.00"/><line x1="76.80" y1="67.50" x2="537.60" y2="67.50"/><line x1="76.80" y1="106.50" x2="537.60" y2="106.50"/><line x1="76.80" y1="144.50" x2="537.60" y2="144.50"/><line x1="76.80" y1="182.50" x2="537.60" y2="182.50"/><line x1="76.80" y1="221.50" x2="537.60" y2="221.50"/><line x1="76.80" y1="259.50" x2="537.60" y2="259.50"/><line x1="76.80" y1="298.50" x2="537.60" y2="298.50"/>
</g>
<g clip-path="url(#axc)" fill="none" stroke-linejoin="round" stroke-linecap="square">
<polyline points="104.50,223.30 110.00,220.00 118.00,216.50 122.00,212.00 125.40,208.75 130.00,209.50 140.00,212.00 156.00,213.75 170.00,213.60 176.00,213.00 185.00,211.50 197.00,208.50 216.00,205.60 230.00,206.25 240.00,204.00 250.00,202.75 260.00,201.00 270.00,194.00 280.00,188.30 290.00,181.40 296.00,178.40 303.00,177.60 310.00,177.80 316.00,179.50 320.00,180.80 327.00,180.00 334.00,180.00 340.00,186.25 347.50,196.90 354.00,208.00 360.00,217.00 364.00,220.00 372.00,219.40 381.00,217.50 395.00,213.20 400.00,211.10 410.00,206.10 418.75,201.70 437.50,192.30 450.60,185.80 455.00,185.20 460.00,184.80 463.00,180.60 469.00,180.60 471.00,178.10 476.00,178.10 478.50,173.95 490.00,173.95 493.00,170.60 504.00,170.60 507.00,164.10 521.20,164.10" stroke="#000" stroke-width="2.08"/>
<polyline points="168.96,274.56 190.20,272.06 224.45,272.06 252.19,276.87 269.73,266.30 296.16,237.40 319.50,222.91 325.54,222.90 332.83,238.08 353.28,266.40 360.58,271.19 371.08,263.29 384.66,292.81 399.33,307.19 413.48,312.00 431.16,312.00 445.84,307.20 462.72,307.18 492.98,311.98 517.15,306.01 537.60,294.68" stroke="#666" stroke-width="2.78"/>
<polyline points="168.96,127.68 200.52,139.02 215.51,164.16 252.19,182.40 314.55,140.16 322.20,137.28 334.79,145.92 343.85,169.91 370.56,182.40 381.02,217.91 496.13,193.93 537.60,166.60" stroke="#666" stroke-width="2.78"/>
</g>
<g stroke="#000" stroke-width="1.11" fill="none">
<line x1="77.50" y1="336.50" x2="77.50" y2="341.36"/><line x1="169.50" y1="336.50" x2="169.50" y2="341.36"/><line x1="261.50" y1="336.50" x2="261.50" y2="341.36"/><line x1="353.50" y1="336.50" x2="353.50" y2="341.36"/><line x1="445.50" y1="336.50" x2="445.50" y2="341.36"/><line x1="538.50" y1="336.50" x2="538.50" y2="341.36"/><line x1="105.50" y1="336.50" x2="105.50" y2="339.28"/><line x1="121.50" y1="336.50" x2="121.50" y2="339.28"/><line x1="132.50" y1="336.50" x2="132.50" y2="339.28"/><line x1="141.50" y1="336.50" x2="141.50" y2="339.28"/><line x1="149.50" y1="336.50" x2="149.50" y2="339.28"/><line x1="155.50" y1="336.50" x2="155.50" y2="339.28"/><line x1="160.50" y1="336.50" x2="160.50" y2="339.28"/><line x1="165.50" y1="336.50" x2="165.50" y2="339.28"/><line x1="197.50" y1="336.50" x2="197.50" y2="339.28"/><line x1="213.50" y1="336.50" x2="213.50" y2="339.28"/><line x1="224.50" y1="336.50" x2="224.50" y2="339.28"/><line x1="233.50" y1="336.50" x2="233.50" y2="339.28"/><line x1="241.50" y1="336.50" x2="241.50" y2="339.28"/><line x1="247.50" y1="336.50" x2="247.50" y2="339.28"/><line x1="252.50" y1="336.50" x2="252.50" y2="339.28"/><line x1="257.50" y1="336.50" x2="257.50" y2="339.28"/><line x1="289.50" y1="336.50" x2="289.50" y2="339.28"/><line x1="305.50" y1="336.50" x2="305.50" y2="339.28"/><line x1="317.50" y1="336.50" x2="317.50" y2="339.28"/><line x1="326.50" y1="336.50" x2="326.50" y2="339.28"/><line x1="333.50" y1="336.50" x2="333.50" y2="339.28"/><line x1="339.50" y1="336.50" x2="339.50" y2="339.28"/><line x1="344.50" y1="336.50" x2="344.50" y2="339.28"/><line x1="349.50" y1="336.50" x2="349.50" y2="339.28"/><line x1="381.50" y1="336.50" x2="381.50" y2="339.28"/><line x1="397.50" y1="336.50" x2="397.50" y2="339.28"/><line x1="409.50" y1="336.50" x2="409.50" y2="339.28"/><line x1="418.50" y1="336.50" x2="418.50" y2="339.28"/><line x1="425.50" y1="336.50" x2="425.50" y2="339.28"/><line x1="431.50" y1="336.50" x2="431.50" y2="339.28"/><line x1="437.50" y1="336.50" x2="437.50" y2="339.28"/><line x1="441.50" y1="336.50" x2="441.50" y2="339.28"/><line x1="473.50" y1="336.50" x2="473.50" y2="339.28"/><line x1="489.50" y1="336.50" x2="489.50" y2="339.28"/><line x1="501.50" y1="336.50" x2="501.50" y2="339.28"/><line x1="510.50" y1="336.50" x2="510.50" y2="339.28"/><line x1="517.50" y1="336.50" x2="517.50" y2="339.28"/><line x1="523.50" y1="336.50" x2="523.50" y2="339.28"/><line x1="529.50" y1="336.50" x2="529.50" y2="339.28"/><line x1="533.50" y1="336.50" x2="533.50" y2="339.28"/><line x1="72.64" y1="67.50" x2="77.50" y2="67.50"/><line x1="72.64" y1="106.50" x2="77.50" y2="106.50"/><line x1="72.64" y1="144.50" x2="77.50" y2="144.50"/><line x1="72.64" y1="182.50" x2="77.50" y2="182.50"/><line x1="72.64" y1="221.50" x2="77.50" y2="221.50"/><line x1="72.64" y1="259.50" x2="77.50" y2="259.50"/><line x1="72.64" y1="298.50" x2="77.50" y2="298.50"/><line x1="72.64" y1="336.50" x2="77.50" y2="336.50"/>
<rect x="77.5" y="48.5" width="461.0" height="288.0"/>
</g>
<g letter-spacing="-0.28"><text x="77.50" y="356.6" text-anchor="middle">0.01</text><text x="169.50" y="356.6" text-anchor="middle">0.1</text><text x="261.50" y="356.6" text-anchor="middle">1</text><text x="353.50" y="356.6" text-anchor="middle">10</text><text x="445.50" y="356.6" text-anchor="middle">100</text><text x="538.50" y="356.6" text-anchor="middle">1000</text><text x="67.3" y="72.75" text-anchor="end">−60</text><text x="67.3" y="111.75" text-anchor="end">−80</text><text x="67.3" y="149.75" text-anchor="end">−100</text><text x="67.3" y="187.75" text-anchor="end">−120</text><text x="67.3" y="226.75" text-anchor="end">−140</text><text x="67.3" y="264.75" text-anchor="end">−160</text><text x="67.3" y="303.75" text-anchor="end">−180</text><text x="67.3" y="341.75" text-anchor="end">−200</text></g>
<text x="307.4" y="375.6" text-anchor="middle">Period [s]</text>
<text transform="translate(17.6,269.3) rotate(-90)" letter-spacing="0.1">Power <tspan dx="0.9">[</tspan><tspan font-style="oblique">m</tspan><tspan font-size="9.7px" dy="-5.3" dx="-0.6">2</tspan><tspan dy="5.3" font-style="oblique">/s</tspan><tspan font-size="9.7px" dy="-5.3">4</tspan><tspan dy="5.3" font-style="oblique">/Hz</tspan>]<tspan dx="0.9"> [dB]</tspan></text>
<g class="t" text-anchor="middle">
<text x="305.1" y="9.4" xml:space="preserve">BK.BK60.00.HHE   2021-12-29 -- 2021-12-29  (46/46 segments)</text>
<text x="307.6" y="24.9">sensor_type MBB-2 sensor_sn MBB2-BV</text>
<text x="307.5" y="39.5">datalogger_type Q8 datalogger_sn Q8-BV</text>
</g>
<rect x="566.5" y="194.5" width="7.0" height="142.0" fill="url(#cbg)" stroke="#000" stroke-width="1.11"/>
<g stroke="#000" stroke-width="1.11"><line x1="581.4" y1="336.50" x2="586.6" y2="336.50"/><line x1="581.4" y1="312.50" x2="586.6" y2="312.50"/><line x1="581.4" y1="289.50" x2="586.6" y2="289.50"/><line x1="581.4" y1="265.50" x2="586.6" y2="265.50"/><line x1="581.4" y1="241.50" x2="586.6" y2="241.50"/><line x1="581.4" y1="218.50" x2="586.6" y2="218.50"/><line x1="581.4" y1="194.50" x2="586.6" y2="194.50"/></g>
<g letter-spacing="-0.28"><text x="591.2" y="341.80">0</text><text x="591.2" y="318.13">5</text><text x="591.2" y="294.47">10</text><text x="591.2" y="270.80">15</text><text x="591.2" y="247.13">20</text><text x="591.2" y="223.47">25</text><text x="591.2" y="199.80">30</text></g>
<text transform="translate(625.4,206.6) rotate(-90)">[%]</text>
<rect x="116" y="379" width="408" height="8" fill="#008000"/>
<rect x="116" y="387" width="399" height="12" fill="#0000ff"/>
<g stroke="#000" stroke-width="1.11" fill="none">
<rect x="96.5" y="379.5" width="448.0" height="19.0"/>
<line x1="116.50" y1="398.90" x2="116.50" y2="403.76"/><line x1="167.50" y1="398.90" x2="167.50" y2="403.76"/><line x1="218.50" y1="398.90" x2="218.50" y2="403.76"/><line x1="269.50" y1="398.90" x2="269.50" y2="403.76"/><line x1="320.50" y1="398.90" x2="320.50" y2="403.76"/><line x1="371.50" y1="398.90" x2="371.50" y2="403.76"/><line x1="422.50" y1="398.90" x2="422.50" y2="403.76"/><line x1="473.50" y1="398.90" x2="473.50" y2="403.76"/><line x1="524.50" y1="398.90" x2="524.50" y2="403.76"/>
</g>
<g letter-spacing="-0.2"><text transform="translate(60.75,448.4) rotate(-30)">12-29 00</text><text transform="translate(111.75,448.4) rotate(-30)">12-29 03</text><text transform="translate(162.75,448.4) rotate(-30)">12-29 06</text><text transform="translate(213.75,448.4) rotate(-30)">12-29 09</text><text transform="translate(264.75,448.4) rotate(-30)">12-29 12</text><text transform="translate(315.75,448.4) rotate(-30)">12-29 15</text><text transform="translate(366.75,448.4) rotate(-30)">12-29 18</text><text transform="translate(417.75,448.4) rotate(-30)">12-29 21</text><text transform="translate(468.75,448.4) rotate(-30)">12-30 00</text></g>
</svg>
</body></html>
